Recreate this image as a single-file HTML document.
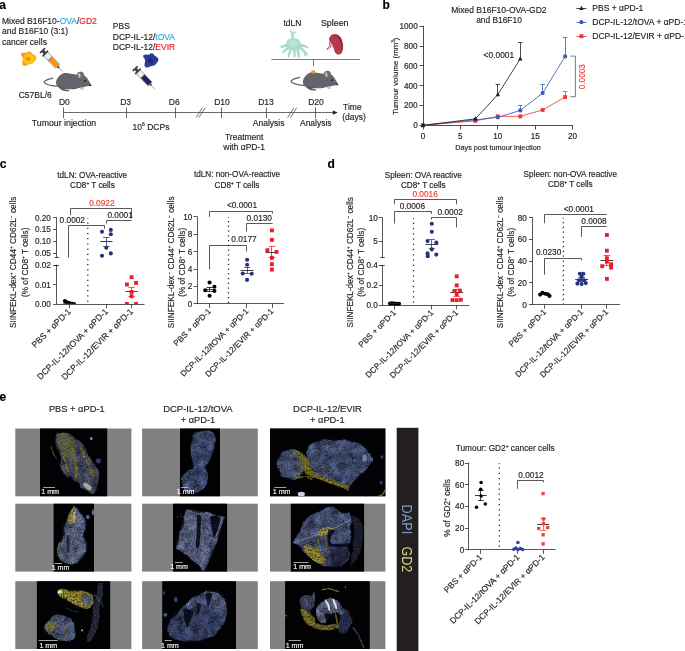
<!DOCTYPE html>
<html><head><meta charset="utf-8"><title>Figure</title>
<style>
html,body{margin:0;padding:0;background:#fff;}
svg{display:block;font-family:'Liberation Sans', sans-serif;}
text{stroke-width:.16px;}
</style></head><body>
<svg width="685" height="651" viewBox="0 0 685 651">
<rect width="685" height="651" fill="#fff"/>
<g id="panel-a">
<text x="-0.8" y="9.2" font-size="12" text-anchor="start" fill="#000" font-weight="bold" stroke="#000">a</text>
<text x="2" y="23.8" font-size="8.5" text-anchor="start" fill="#231f20" stroke="#231f20">Mixed B16F10-<tspan fill="#27aae1" stroke="#27aae1">OVA</tspan>/<tspan fill="#ed1c24" stroke="#ed1c24">GD2</tspan></text>
<text x="2" y="34.3" font-size="8.5" text-anchor="start" fill="#231f20" stroke="#231f20">and B16F10 (3:1)</text>
<text x="2" y="44.8" font-size="8.5" text-anchor="start" fill="#231f20" stroke="#231f20">cancer cells</text>
<text x="112.8" y="29.3" font-size="8.5" text-anchor="start" fill="#231f20" stroke="#231f20">PBS</text>
<text x="112.8" y="39.6" font-size="8.5" text-anchor="start" fill="#231f20" stroke="#231f20">DCP-IL-12/<tspan fill="#27aae1" stroke="#27aae1">tOVA</tspan></text>
<text x="112.8" y="49.9" font-size="8.5" text-anchor="start" fill="#231f20" stroke="#231f20">DCP-IL-12/<tspan fill="#ed1c24" stroke="#ed1c24">EVIR</tspan></text>
<text x="18.7" y="98" font-size="8.5" text-anchor="start" fill="#231f20" stroke="#231f20">C57BL/6</text>
<line x1="63.6" y1="112.5" x2="334" y2="112.5" stroke="#3a3a3a" stroke-width="0.75"/>
<path d="M337.8 112.6 L332.8 110.5 L332.8 114.69999999999999 Z" stroke="none" stroke-width="0" fill="#231f20"/>
<line x1="63.5" y1="107.4" x2="63.5" y2="118.1" stroke="#3a3a3a" stroke-width="0.75"/>
<text x="64.4" y="104.5" font-size="8.5" text-anchor="middle" fill="#231f20" stroke="#231f20">D0</text>
<line x1="126.5" y1="107.4" x2="126.5" y2="118.1" stroke="#3a3a3a" stroke-width="0.75"/>
<text x="125.6" y="104.5" font-size="8.5" text-anchor="middle" fill="#231f20" stroke="#231f20">D3</text>
<line x1="175.5" y1="107.4" x2="175.5" y2="118.1" stroke="#3a3a3a" stroke-width="0.75"/>
<text x="174.3" y="104.5" font-size="8.5" text-anchor="middle" fill="#231f20" stroke="#231f20">D6</text>
<line x1="221.5" y1="107.4" x2="221.5" y2="118.1" stroke="#3a3a3a" stroke-width="0.75"/>
<text x="222.0" y="104.5" font-size="8.5" text-anchor="middle" fill="#231f20" stroke="#231f20">D10</text>
<line x1="266.5" y1="107.4" x2="266.5" y2="118.1" stroke="#3a3a3a" stroke-width="0.75"/>
<text x="266.0" y="104.5" font-size="8.5" text-anchor="middle" fill="#231f20" stroke="#231f20">D13</text>
<line x1="315.5" y1="107.4" x2="315.5" y2="118.1" stroke="#3a3a3a" stroke-width="0.75"/>
<text x="316.0" y="104.5" font-size="8.5" text-anchor="middle" fill="#231f20" stroke="#231f20">D20</text>
<line x1="196.1" y1="117.6" x2="202.4" y2="107.8" stroke="#3a3a3a" stroke-width="0.7"/>
<line x1="198.9" y1="117.6" x2="205.2" y2="107.8" stroke="#3a3a3a" stroke-width="0.7"/>
<line x1="287.6" y1="117.6" x2="293.9" y2="107.8" stroke="#3a3a3a" stroke-width="0.7"/>
<line x1="290.4" y1="117.6" x2="296.7" y2="107.8" stroke="#3a3a3a" stroke-width="0.7"/>
<text x="64.0" y="126.4" font-size="8.75" text-anchor="middle" fill="#231f20" stroke="#231f20">Tumour injection</text>
<text x="151" y="129.6" font-size="8.5" text-anchor="middle" fill="#231f20" stroke="#231f20">10<tspan dy="-3.2" font-size="5">6</tspan><tspan dy="3.2"> DCPs</tspan></text>
<text x="268.7" y="126.4" font-size="8.5" text-anchor="middle" fill="#231f20" stroke="#231f20">Analysis</text>
<text x="315.8" y="126.4" font-size="8.5" text-anchor="middle" fill="#231f20" stroke="#231f20">Analysis</text>
<text x="244.2" y="140" font-size="8.5" text-anchor="middle" fill="#231f20" stroke="#231f20">Treatment</text>
<text x="244.2" y="150" font-size="8.5" text-anchor="middle" fill="#231f20" stroke="#231f20">with αPD-1</text>
<text x="343.1" y="110.1" font-size="8.5" text-anchor="start" fill="#231f20" stroke="#231f20">Time</text>
<text x="342.2" y="120.2" font-size="8.5" text-anchor="start" fill="#231f20" stroke="#231f20">(days)</text>
<text x="292.4" y="26" font-size="8.5" text-anchor="middle" fill="#231f20" stroke="#231f20">tdLN</text>
<text x="334.7" y="26" font-size="8.9" text-anchor="middle" fill="#231f20" stroke="#231f20">Spleen</text>
<line x1="271.4" y1="59.5" x2="360" y2="59.5" stroke="#6d6e71" stroke-width="0.9"/>
<line x1="313.5" y1="59.4" x2="313.5" y2="66.2" stroke="#6d6e71" stroke-width="0.9"/>
<radialGradient id="gcell1" cx="52%" cy="52%" r="52%"><stop offset="0" stop-color="#ffd208"/><stop offset="0.45" stop-color="#ffd208"/><stop offset="1" stop-color="#f7941d"/></radialGradient>
<path transform="translate(28.6 58.6)" d="M-7.4,-5.2 C-5,-6.6 -3.4,-5.2 -1.6,-6 C0,-7.6 2.4,-7.4 3.2,-5.4 C4.6,-3.6 7,-3.6 7.6,-1.4 C8,1 6,2.2 5,3.8 C3.6,5.6 1.4,5.2 -0.6,6.2 C-2.6,7.6 -5.4,7.6 -6.2,5.6 C-6.8,3.4 -5.2,1.4 -5.8,-0.6 C-6.4,-2.4 -8.4,-3.6 -7.4,-5.2 Z" fill="url(#gcell1)"/>
<ellipse cx="28.3" cy="59.2" rx="2.8" ry="2.3" fill="#f68b1f" transform="rotate(25 28.6 58.6)"/>
<radialGradient id="gcell2" cx="52%" cy="52%" r="52%"><stop offset="0" stop-color="#2a3a9c"/><stop offset="0.45" stop-color="#2a3a9c"/><stop offset="1" stop-color="#2c3fa6"/></radialGradient>
<path transform="translate(150.8 60.4)" d="M-7.4,-5.2 C-5,-6.6 -3.4,-5.2 -1.6,-6 C0,-7.6 2.4,-7.4 3.2,-5.4 C4.6,-3.6 7,-3.6 7.6,-1.4 C8,1 6,2.2 5,3.8 C3.6,5.6 1.4,5.2 -0.6,6.2 C-2.6,7.6 -5.4,7.6 -6.2,5.6 C-6.8,3.4 -5.2,1.4 -5.8,-0.6 C-6.4,-2.4 -8.4,-3.6 -7.4,-5.2 Z" fill="url(#gcell2)"/>
<ellipse cx="150.5" cy="61.0" rx="2.8" ry="2.3" fill="#1f2a72" transform="rotate(25 150.8 60.4)"/>
<g transform="translate(41.9 50.0) rotate(-44) scale(0.92)">
<path d="M-3.9,0.5 Q-3.9,0 -3.3,0 H3.3 Q3.9,0 3.9,0.5 V1.3 Q3.9,1.9 3.2,1.9 H1.7 V4.3 H3.6 Q4.3,4.3 4.3,5 V5.6 Q4.3,6.3 3.6,6.3 H-3.6 Q-4.3,6.3 -4.3,5.6 V5 Q-4.3,4.3 -3.6,4.3 H-1.7 V1.9 H-3.2 Q-3.9,1.9 -3.9,1.3 Z" fill="#3f4144"/>
<rect x="-3.1" y="6.2" width="6.2" height="18.6" rx="0.7" fill="#f4f4f4" stroke="#4d4e50" stroke-width="0.55"/>
<rect x="-2.8" y="13.2" width="5.6" height="11.3" fill="#f7941d"/>
<rect x="-2.9" y="12.6" width="5.8" height="0.8" fill="#4d4e50"/>
<path d="M-1.6 8.2h0.7M0.4 8.2h0.7M-1.6 9.8h0.7M0.4 9.8h0.7M-1.6 11.3h0.7M0.4 11.3h0.7" stroke="#9d9fa2" stroke-width="0.45"/>
<path d="M-1.5,24.8 H1.5 L0.5,27.4 H-0.5 Z" fill="#4d4e50"/>
<line x1="0" y1="27" x2="0" y2="32.6" stroke="#58595b" stroke-width="0.55"/>
</g>
<g transform="translate(134.6 68.0) rotate(-44) scale(0.9)">
<path d="M-3.9,0.5 Q-3.9,0 -3.3,0 H3.3 Q3.9,0 3.9,0.5 V1.3 Q3.9,1.9 3.2,1.9 H1.7 V4.3 H3.6 Q4.3,4.3 4.3,5 V5.6 Q4.3,6.3 3.6,6.3 H-3.6 Q-4.3,6.3 -4.3,5.6 V5 Q-4.3,4.3 -3.6,4.3 H-1.7 V1.9 H-3.2 Q-3.9,1.9 -3.9,1.3 Z" fill="#3f4144"/>
<rect x="-3.1" y="6.2" width="6.2" height="18.6" rx="0.7" fill="#f4f4f4" stroke="#4d4e50" stroke-width="0.55"/>
<rect x="-2.8" y="13.2" width="5.6" height="11.3" fill="#262262"/>
<rect x="-2.9" y="12.6" width="5.8" height="0.8" fill="#4d4e50"/>
<path d="M-1.6 8.2h0.7M0.4 8.2h0.7M-1.6 9.8h0.7M0.4 9.8h0.7M-1.6 11.3h0.7M0.4 11.3h0.7" stroke="#9d9fa2" stroke-width="0.45"/>
<path d="M-1.5,24.8 H1.5 L0.5,27.4 H-0.5 Z" fill="#4d4e50"/>
<line x1="0" y1="27" x2="0" y2="32.6" stroke="#58595b" stroke-width="0.55"/>
</g>
<g transform="translate(40 66)">
<path d="M16.76,20.11 C16.01,20.05 13.70,19.94 12.26,19.71 C10.83,19.47 9.38,19.13 8.18,18.72 C6.98,18.32 5.72,17.72 5.07,17.25 C4.42,16.79 4.20,16.37 4.25,15.94 C4.31,15.52 4.61,15.18 5.40,14.72 C6.19,14.25 7.78,13.59 8.99,13.16 C10.21,12.74 12.06,12.35 12.67,12.18" fill="none" stroke="#5f6368" stroke-width="1.25" stroke-linecap="round"/>
<path d="M15.94,16.76 C15.90,15.37 16.58,13.72 17.33,12.43 C18.08,11.13 19.24,9.89 20.44,8.99 C21.64,8.09 23.17,7.33 24.53,7.03 C25.89,6.73 27.26,7.02 28.62,7.20 C29.98,7.37 31.34,7.85 32.71,8.09 C34.07,8.34 35.43,8.60 36.79,8.67 C38.16,8.74 39.59,8.34 40.88,8.50 C42.18,8.67 43.54,9.05 44.56,9.65 C45.58,10.25 46.27,11.15 47.02,12.10 C47.77,13.06 48.42,14.34 49.06,15.37 C49.70,16.41 50.45,17.65 50.86,18.32 C51.27,18.98 51.74,19.08 51.51,19.38 C51.28,19.68 50.42,19.92 49.47,20.11 C48.51,20.31 46.95,20.31 45.79,20.52 C44.63,20.74 43.74,21.16 42.52,21.42 C41.29,21.68 40.07,21.89 38.43,22.08 C36.79,22.27 34.61,22.44 32.71,22.57 C30.80,22.69 28.48,22.70 26.98,22.81 C25.48,22.92 24.80,23.29 23.71,23.22 C22.62,23.15 21.46,22.81 20.44,22.40 C19.42,22.00 18.33,21.71 17.58,20.77 C16.83,19.83 15.99,18.15 15.94,16.76 Z" fill="#62656b"/>
<path d="M19.62,21.91 C20.01,21.76 22.49,22.59 23.71,22.89 C24.94,23.19 26.06,23.45 26.98,23.71 C27.91,23.97 28.97,24.19 29.27,24.45 C29.57,24.71 29.57,25.17 28.78,25.27 C27.99,25.36 25.76,25.27 24.53,25.02 C23.30,24.78 22.24,24.31 21.42,23.79 C20.61,23.28 19.24,22.06 19.62,21.91 Z" fill="#585b61"/>
<path d="M17.58,19.62 C17.65,19.45 19.69,20.99 21.26,21.42 C22.83,21.86 24.80,22.13 26.98,22.24 C29.16,22.35 32.43,22.21 34.34,22.08 C36.25,21.94 38.29,21.29 38.43,21.42 C38.57,21.56 37.07,22.61 35.16,22.89 C33.25,23.18 29.37,23.21 26.98,23.14 C24.60,23.07 22.42,23.07 20.85,22.49 C19.28,21.90 17.51,19.80 17.58,19.62 Z" fill="#55585e"/>
<path d="M36.96,9.16 C36.63,8.37 36.88,7.75 37.29,7.20 C37.69,6.64 38.59,6.02 39.41,5.81 C40.23,5.59 41.46,5.60 42.19,5.89 C42.93,6.17 43.50,6.84 43.83,7.52 C44.15,8.20 44.37,9.29 44.15,9.98 C43.94,10.66 43.34,11.28 42.52,11.61 C41.70,11.94 40.17,12.35 39.25,11.94 C38.32,11.53 37.29,9.95 36.96,9.16 Z" fill="#6b6e74"/>
<ellipse cx="39.41" cy="9.48" rx="1.23" ry="2.37" fill="#f3a4b5" transform="rotate(-8 39.41 9.48)"/>
<circle cx="44.97" cy="14.88" r="0.85" fill="#0c0c0c"/>
<ellipse cx="50.37" cy="19.38" rx="0.95" ry="0.7" fill="#0c0c0c"/>
<path d="M39.90,21.42 C40.30,21.34 41.43,21.64 42.11,21.91 C42.79,22.19 43.79,22.73 43.99,23.06 C44.19,23.39 43.79,23.85 43.34,23.88 C42.89,23.90 41.89,23.47 41.29,23.22 C40.69,22.98 39.97,22.70 39.74,22.40 C39.51,22.10 39.51,21.50 39.90,21.42 Z" fill="#f3a4b5"/>
</g>
<g transform="translate(286.9 65.2)">
<path d="M16.76,20.11 C16.01,20.05 13.70,19.94 12.26,19.71 C10.83,19.47 9.38,19.13 8.18,18.72 C6.98,18.32 5.72,17.72 5.07,17.25 C4.42,16.79 4.20,16.37 4.25,15.94 C4.31,15.52 4.61,15.18 5.40,14.72 C6.19,14.25 7.78,13.59 8.99,13.16 C10.21,12.74 12.06,12.35 12.67,12.18" fill="none" stroke="#5f6368" stroke-width="1.25" stroke-linecap="round"/>
<path d="M15.94,16.76 C15.90,15.37 16.58,13.72 17.33,12.43 C18.08,11.13 19.24,9.89 20.44,8.99 C21.64,8.09 23.17,7.33 24.53,7.03 C25.89,6.73 27.26,7.02 28.62,7.20 C29.98,7.37 31.34,7.85 32.71,8.09 C34.07,8.34 35.43,8.60 36.79,8.67 C38.16,8.74 39.59,8.34 40.88,8.50 C42.18,8.67 43.54,9.05 44.56,9.65 C45.58,10.25 46.27,11.15 47.02,12.10 C47.77,13.06 48.42,14.34 49.06,15.37 C49.70,16.41 50.45,17.65 50.86,18.32 C51.27,18.98 51.74,19.08 51.51,19.38 C51.28,19.68 50.42,19.92 49.47,20.11 C48.51,20.31 46.95,20.31 45.79,20.52 C44.63,20.74 43.74,21.16 42.52,21.42 C41.29,21.68 40.07,21.89 38.43,22.08 C36.79,22.27 34.61,22.44 32.71,22.57 C30.80,22.69 28.48,22.70 26.98,22.81 C25.48,22.92 24.80,23.29 23.71,23.22 C22.62,23.15 21.46,22.81 20.44,22.40 C19.42,22.00 18.33,21.71 17.58,20.77 C16.83,19.83 15.99,18.15 15.94,16.76 Z" fill="#62656b"/>
<path d="M19.62,21.91 C20.01,21.76 22.49,22.59 23.71,22.89 C24.94,23.19 26.06,23.45 26.98,23.71 C27.91,23.97 28.97,24.19 29.27,24.45 C29.57,24.71 29.57,25.17 28.78,25.27 C27.99,25.36 25.76,25.27 24.53,25.02 C23.30,24.78 22.24,24.31 21.42,23.79 C20.61,23.28 19.24,22.06 19.62,21.91 Z" fill="#585b61"/>
<path d="M17.58,19.62 C17.65,19.45 19.69,20.99 21.26,21.42 C22.83,21.86 24.80,22.13 26.98,22.24 C29.16,22.35 32.43,22.21 34.34,22.08 C36.25,21.94 38.29,21.29 38.43,21.42 C38.57,21.56 37.07,22.61 35.16,22.89 C33.25,23.18 29.37,23.21 26.98,23.14 C24.60,23.07 22.42,23.07 20.85,22.49 C19.28,21.90 17.51,19.80 17.58,19.62 Z" fill="#55585e"/>
<path d="M36.96,9.16 C36.63,8.37 36.88,7.75 37.29,7.20 C37.69,6.64 38.59,6.02 39.41,5.81 C40.23,5.59 41.46,5.60 42.19,5.89 C42.93,6.17 43.50,6.84 43.83,7.52 C44.15,8.20 44.37,9.29 44.15,9.98 C43.94,10.66 43.34,11.28 42.52,11.61 C41.70,11.94 40.17,12.35 39.25,11.94 C38.32,11.53 37.29,9.95 36.96,9.16 Z" fill="#6b6e74"/>
<ellipse cx="39.41" cy="9.48" rx="1.23" ry="2.37" fill="#f3a4b5" transform="rotate(-8 39.41 9.48)"/>
<circle cx="44.97" cy="14.88" r="0.85" fill="#0c0c0c"/>
<ellipse cx="50.37" cy="19.38" rx="0.95" ry="0.7" fill="#0c0c0c"/>
<path d="M39.90,21.42 C40.30,21.34 41.43,21.64 42.11,21.91 C42.79,22.19 43.79,22.73 43.99,23.06 C44.19,23.39 43.79,23.85 43.34,23.88 C42.89,23.90 41.89,23.47 41.29,23.22 C40.69,22.98 39.97,22.70 39.74,22.40 C39.51,22.10 39.51,21.50 39.90,21.42 Z" fill="#f3a4b5"/>
<ellipse cx="26.33" cy="6.87" rx="2.1" ry="1.7" fill="#f7941d"/>
</g>
<g fill="#a9dcc6" stroke="#93d2b8" stroke-width="0.3">
<path d="M286.6,43.6 C286.4,40.2 289.4,38.6 291.6,38.8 C291.8,36.6 291,35.4 291.8,33.8 C290.4,32.4 289.6,31 290,30.2 C291.2,30.2 292.2,31.6 293,32.4 C294.2,31.6 295.6,31.4 296.4,32 C295.6,33 294.2,33.4 293.6,34.4 C293.4,36 294,37.6 294.2,38.8 C297.4,38.4 300.4,40.4 300.4,43.8 C302.6,44.4 306.4,45.6 308.6,47.4 C308.6,48.2 307.4,48.2 306.4,47.8 C304.6,47 302.6,46.6 300.8,46.4 C302.6,48.2 305.4,50.4 306.2,52.6 C307.4,53.2 308.2,54.6 307.8,55.4 C306.8,55.4 306,54.4 305.6,53.8 C305.2,54.8 305.6,56 305,56.6 C304,56.2 304,54.4 304.2,53.2 C303,51.4 300.6,49.8 298.8,48.6 C299.2,51.4 299.8,54.6 299.6,57.6 C299,58.4 298,58 297.8,57 C297.6,54.2 297,51.4 296.2,49.2 C295.4,50.6 295.6,54.4 295.2,57 C294.6,57.8 293.6,57.6 293.6,56.6 C293.6,54 293.4,51 292.6,49 C291.2,50.4 290.2,54 289.4,56.8 C288.8,57.6 287.8,57.2 287.8,56.2 C288.2,53.6 289,50.4 289.8,48.4 C288,49 285.4,51.4 283.6,52.8 C282.8,53.2 282,52.6 282.4,51.8 C283.8,50.2 285.8,48.2 287.4,47 C285.4,46.8 282.8,47.6 280.8,47.8 C280,47.6 280,46.6 280.8,46.2 C282.6,45.6 285,44.6 286.6,43.6 Z"/>
</g>
<ellipse cx="293.4" cy="43.4" rx="5" ry="3.6" fill="#b9e4d2"/>
<path d="M329.4,37.4 C331.6,33.2 337.4,32.8 340.4,37 C343.6,41.6 344.2,49.6 341.4,53.2 C339.4,55.6 335.6,54.6 334.6,51.4 C333.8,48.6 333.6,46.4 331.6,44 C329.8,42 328.2,40 329.4,37.4 Z" fill="#b23a4d"/>
<path d="M333,36 C336.4,35.6 339.4,39 340.6,43.4 C341.6,47.4 341.2,51.4 339.6,53.4 C342.6,51.4 343.4,45 341.6,40 C340,35.6 336,33.6 333,36 Z" fill="#9a2b3f"/>
<path d="M326.6,49.6 L329.8,45.6 L329.3,42.2" fill="none" stroke="#3343a8" stroke-width="0.75" stroke-linejoin="round"/>
<path d="M327.2,49.8 L331.8,46.3 L334.6,47.8 M330.2,47.4 L331.2,43.6" fill="none" stroke="#c9242c" stroke-width="0.6" stroke-linejoin="round"/>
</g>
<g id="panel-b">
<text x="382.4" y="9.0" font-size="12" text-anchor="start" fill="#000" font-weight="bold" stroke="#000">b</text>
<text x="498.9" y="12.5" font-size="8.5" text-anchor="middle" fill="#231f20" stroke="#231f20">Mixed B16F10-OVA-GD2</text>
<text x="499" y="23.1" font-size="8.4" text-anchor="middle" fill="#231f20" stroke="#231f20">and B16F10</text>
<line x1="423.5" y1="25.8" x2="423.5" y2="125.7" stroke="#231f20" stroke-width="0.8"/>
<line x1="419.5" y1="125.5" x2="423.3" y2="125.5" stroke="#231f20" stroke-width="0.8"/>
<text x="417.7" y="128.25" font-size="8.2" text-anchor="end" fill="#231f20" stroke="#231f20">0</text>
<line x1="419.5" y1="105.5" x2="423.3" y2="105.5" stroke="#231f20" stroke-width="0.8"/>
<text x="417.7" y="108.43" font-size="8.2" text-anchor="end" fill="#231f20" stroke="#231f20">200</text>
<line x1="419.5" y1="85.5" x2="423.3" y2="85.5" stroke="#231f20" stroke-width="0.8"/>
<text x="417.7" y="88.61" font-size="8.2" text-anchor="end" fill="#231f20" stroke="#231f20">400</text>
<line x1="419.5" y1="65.5" x2="423.3" y2="65.5" stroke="#231f20" stroke-width="0.8"/>
<text x="417.7" y="68.79" font-size="8.2" text-anchor="end" fill="#231f20" stroke="#231f20">600</text>
<line x1="419.5" y1="46.5" x2="423.3" y2="46.5" stroke="#231f20" stroke-width="0.8"/>
<text x="417.7" y="48.970000000000006" font-size="8.2" text-anchor="end" fill="#231f20" stroke="#231f20">800</text>
<line x1="419.5" y1="26.5" x2="423.3" y2="26.5" stroke="#231f20" stroke-width="0.8"/>
<text x="417.7" y="29.15" font-size="8.2" text-anchor="end" fill="#231f20" stroke="#231f20">1000</text>
<line x1="422.6" y1="125.5" x2="573.0" y2="125.5" stroke="#231f20" stroke-width="0.8"/>
<line x1="423.5" y1="125.6" x2="423.5" y2="129.5" stroke="#231f20" stroke-width="0.8"/>
<text x="423.0" y="138.79999999999998" font-size="8.2" text-anchor="middle" fill="#231f20" stroke="#231f20">0</text>
<line x1="460.5" y1="125.6" x2="460.5" y2="129.5" stroke="#231f20" stroke-width="0.8"/>
<text x="460.4" y="138.79999999999998" font-size="8.2" text-anchor="middle" fill="#231f20" stroke="#231f20">5</text>
<line x1="497.5" y1="125.6" x2="497.5" y2="129.5" stroke="#231f20" stroke-width="0.8"/>
<text x="497.8" y="138.79999999999998" font-size="8.2" text-anchor="middle" fill="#231f20" stroke="#231f20">10</text>
<line x1="535.5" y1="125.6" x2="535.5" y2="129.5" stroke="#231f20" stroke-width="0.8"/>
<text x="535.2" y="138.79999999999998" font-size="8.2" text-anchor="middle" fill="#231f20" stroke="#231f20">15</text>
<line x1="572.5" y1="125.6" x2="572.5" y2="129.5" stroke="#231f20" stroke-width="0.8"/>
<text x="572.6" y="138.79999999999998" font-size="8.2" text-anchor="middle" fill="#231f20" stroke="#231f20">20</text>
<text x="498" y="150.2" font-size="7.25" text-anchor="middle" fill="#231f20" stroke="#231f20">Days post tumour injection</text>
<text x="397.9" y="76.2" font-size="7.85" text-anchor="middle" fill="#231f20" transform="rotate(-90 397.9 76.2)" stroke="#231f20">Tumour volume (mm<tspan dy="-2.6" font-size="4.6">3</tspan><tspan dy="2.6">)</tspan></text>
<line x1="565.5" y1="97.06" x2="565.5" y2="91.61" stroke="#ee3a36" stroke-width="0.8"/>
<line x1="562.92" y1="91.5" x2="567.32" y2="91.5" stroke="#ee3a36" stroke-width="0.8"/>
<polyline points="423.0,125.3 475.36,120.84 497.8,116.38 520.24,116.38 542.68,109.94 565.12,97.06" fill="none" stroke="#ee3a36" stroke-width="0.85" stroke-linejoin="round"/>
<rect x="421.05" y="123.35" width="3.9" height="3.9" fill="#ee3a36"/>
<rect x="473.41" y="118.89" width="3.9" height="3.9" fill="#ee3a36"/>
<rect x="495.85" y="114.43" width="3.9" height="3.9" fill="#ee3a36"/>
<rect x="518.29" y="114.43" width="3.9" height="3.9" fill="#ee3a36"/>
<rect x="540.73" y="107.99" width="3.9" height="3.9" fill="#ee3a36"/>
<rect x="563.17" y="95.11" width="3.9" height="3.9" fill="#ee3a36"/>
<line x1="520.5" y1="110.44" x2="520.5" y2="105.48" stroke="#3d5ab4" stroke-width="0.8"/>
<line x1="518.04" y1="105.5" x2="522.44" y2="105.5" stroke="#3d5ab4" stroke-width="0.8"/>
<line x1="542.5" y1="93.09" x2="542.5" y2="84.67" stroke="#3d5ab4" stroke-width="0.8"/>
<line x1="540.48" y1="84.5" x2="544.88" y2="84.5" stroke="#3d5ab4" stroke-width="0.8"/>
<line x1="565.5" y1="56.43" x2="565.5" y2="37.6" stroke="#3d5ab4" stroke-width="0.8"/>
<line x1="562.92" y1="37.5" x2="567.32" y2="37.5" stroke="#3d5ab4" stroke-width="0.8"/>
<polyline points="423.0,125.3 475.36,119.85 497.8,117.37 520.24,110.44 542.68,93.09 565.12,56.43" fill="none" stroke="#3d5ab4" stroke-width="0.85" stroke-linejoin="round"/>
<circle cx="423.0" cy="125.3" r="2.1" fill="#3d5ab4"/>
<circle cx="475.36" cy="119.85" r="2.1" fill="#3d5ab4"/>
<circle cx="497.8" cy="117.37" r="2.1" fill="#3d5ab4"/>
<circle cx="520.24" cy="110.44" r="2.1" fill="#3d5ab4"/>
<circle cx="542.68" cy="93.09" r="2.1" fill="#3d5ab4"/>
<circle cx="565.12" cy="56.43" r="2.1" fill="#3d5ab4"/>
<line x1="497.5" y1="94.58" x2="497.5" y2="84.67" stroke="#231f20" stroke-width="0.8"/>
<line x1="495.6" y1="84.5" x2="500.0" y2="84.5" stroke="#231f20" stroke-width="0.8"/>
<line x1="520.5" y1="58.9" x2="520.5" y2="42.55" stroke="#231f20" stroke-width="0.8"/>
<line x1="518.04" y1="42.5" x2="522.44" y2="42.5" stroke="#231f20" stroke-width="0.8"/>
<polyline points="423.0,125.3 475.36,118.86 497.8,94.58 520.24,58.9" fill="none" stroke="#231f20" stroke-width="0.85" stroke-linejoin="round"/>
<path d="M423.0,122.7 L425.25,126.9 L420.75,126.9 Z" fill="#231f20"/>
<path d="M475.36,116.26 L477.61,120.46 L473.11,120.46 Z" fill="#231f20"/>
<path d="M497.8,91.98 L500.05,96.18 L495.55,96.18 Z" fill="#231f20"/>
<path d="M520.24,56.3 L522.49,60.5 L517.99,60.5 Z" fill="#231f20"/>
<text x="483.6" y="57.9" font-size="8.4" text-anchor="start" fill="#231f20" stroke="#231f20">&lt;0.0001</text>
<path d="M570.4,56.1 H575.4 V96.7 H570.4" stroke="#58595b" stroke-width="0.8" fill="none"/>
<text x="585.0" y="76.7" font-size="8.2" text-anchor="middle" fill="#ee3a36" transform="rotate(-90 585.0 76.7)" stroke="#ee3a36">0.0003</text>
<line x1="576.4" y1="8.5" x2="586.4" y2="8.5" stroke="#231f20" stroke-width="0.85"/>
<path d="M581.4,5.8 L583.65,10.0 L579.15,10.0 Z" fill="#231f20"/>
<text x="592.3" y="11.4" font-size="8.5" text-anchor="start" fill="#231f20" stroke="#231f20">PBS + αPD-1</text>
<line x1="576.4" y1="22.5" x2="586.4" y2="22.5" stroke="#3d5ab4" stroke-width="0.85"/>
<circle cx="581.4" cy="22.2" r="2.1" fill="#3d5ab4"/>
<text x="592.3" y="25.2" font-size="8.5" text-anchor="start" fill="#231f20" stroke="#231f20">DCP-IL-12/tOVA + αPD-1</text>
<line x1="576.4" y1="36.5" x2="586.4" y2="36.5" stroke="#ee3a36" stroke-width="0.85"/>
<rect x="579.45" y="34.25" width="3.9" height="3.9" fill="#ee3a36"/>
<text x="592.3" y="39.2" font-size="8.5" text-anchor="start" fill="#231f20" stroke="#231f20">DCP-IL-12/EVIR + αPD-1</text>
</g>
<g id="panel-c">
<text x="-0.2" y="168.3" font-size="12" text-anchor="start" fill="#000" font-weight="bold" stroke="#000">c</text>
<text x="92.2" y="177.5" font-size="8.18" text-anchor="middle" fill="#231f20" stroke="#231f20">tdLN: OVA-reactive</text>
<text x="92.4" y="187.6" font-size="8.18" text-anchor="middle" fill="#231f20" stroke="#231f20">CD8<tspan dy="-2.9" font-size="4.8">+</tspan><tspan dy="2.9" font-size="4.8">​</tspan> T cells</text>
<text x="16.4" y="262.3" font-size="8.27" text-anchor="middle" fill="#231f20" transform="rotate(-90 16.4 262.3)" stroke="#231f20">SIINFEKL-dex<tspan dy="-2.9" font-size="4.8">+</tspan><tspan dy="2.9" font-size="4.8">​</tspan> CD44<tspan dy="-2.9" font-size="4.8">+</tspan><tspan dy="2.9" font-size="4.8">​</tspan> CD62L<tspan dy="-2.9" font-size="4.8">−</tspan><tspan dy="2.9" font-size="4.8">​</tspan> cells</text>
<text x="27.6" y="262.3" font-size="8.27" text-anchor="middle" fill="#231f20" transform="rotate(-90 27.6 262.3)" stroke="#231f20">(% of CD8<tspan dy="-2.9" font-size="4.8">+</tspan><tspan dy="2.9" font-size="4.8">​</tspan> T cells)</text>
<line x1="56.5" y1="217.32" x2="56.5" y2="257.77" stroke="#231f20" stroke-width="0.75"/>
<line x1="53.1" y1="217.5" x2="56.8" y2="217.5" stroke="#231f20" stroke-width="0.75"/>
<text x="50.9" y="220.65" font-size="8.2" text-anchor="end" fill="#231f20" stroke="#231f20">0.20</text>
<line x1="53.1" y1="229.5" x2="56.8" y2="229.5" stroke="#231f20" stroke-width="0.75"/>
<text x="50.9" y="232.45" font-size="8.2" text-anchor="end" fill="#231f20" stroke="#231f20">0.15</text>
<line x1="53.1" y1="241.5" x2="56.8" y2="241.5" stroke="#231f20" stroke-width="0.75"/>
<text x="50.9" y="244.25" font-size="8.2" text-anchor="end" fill="#231f20" stroke="#231f20">0.10</text>
<line x1="53.1" y1="253.5" x2="56.8" y2="253.5" stroke="#231f20" stroke-width="0.75"/>
<text x="50.9" y="256.05" font-size="8.2" text-anchor="end" fill="#231f20" stroke="#231f20">0.05</text>
<line x1="54.5" y1="257.5" x2="59.1" y2="257.5" stroke="#231f20" stroke-width="0.75"/>
<line x1="56.5" y1="264.73" x2="56.5" y2="304.57" stroke="#231f20" stroke-width="0.75"/>
<line x1="53.1" y1="265.5" x2="56.8" y2="265.5" stroke="#231f20" stroke-width="0.75"/>
<text x="50.9" y="268.05" font-size="8.2" text-anchor="end" fill="#231f20" stroke="#231f20">0.02</text>
<line x1="53.1" y1="284.5" x2="56.8" y2="284.5" stroke="#231f20" stroke-width="0.75"/>
<text x="50.9" y="287.65" font-size="8.2" text-anchor="end" fill="#231f20" stroke="#231f20">0.01</text>
<line x1="53.1" y1="304.5" x2="56.8" y2="304.5" stroke="#231f20" stroke-width="0.75"/>
<text x="50.9" y="307.15" font-size="8.2" text-anchor="end" fill="#231f20" stroke="#231f20">0.00</text>
<line x1="54.5" y1="265.5" x2="59.1" y2="265.5" stroke="#231f20" stroke-width="0.75"/>
<line x1="56.42" y1="304.5" x2="144.5" y2="304.5" stroke="#231f20" stroke-width="0.75"/>
<line x1="69.5" y1="304.2" x2="69.5" y2="308.3" stroke="#231f20" stroke-width="0.75"/>
<line x1="106.5" y1="304.2" x2="106.5" y2="308.3" stroke="#231f20" stroke-width="0.75"/>
<line x1="131.5" y1="304.2" x2="131.5" y2="308.3" stroke="#231f20" stroke-width="0.75"/>
<line x1="87.8" y1="217.9" x2="87.8" y2="304" stroke="#231f20" stroke-width="1.25" stroke-dasharray="1.25 3.95" stroke-dashoffset="0.6"/>
<clipPath id="clipc1"><rect x="50" y="200" width="100" height="103.9"/></clipPath>
<g clip-path="url(#clipc1)">
<circle cx="64.9" cy="301" r="2.05" fill="#000"/>
<circle cx="66.9" cy="302.2" r="2.05" fill="#000"/>
<circle cx="69.4" cy="303" r="2.05" fill="#000"/>
<circle cx="72" cy="303.7" r="2.05" fill="#000"/>
<circle cx="74" cy="304" r="2.05" fill="#000"/>
<line x1="106.5" y1="237.2" x2="106.5" y2="246.1" stroke="#29307f" stroke-width="0.75"/>
<line x1="103.1" y1="237.5" x2="109.5" y2="237.5" stroke="#29307f" stroke-width="0.75"/>
<line x1="103.1" y1="246.5" x2="109.5" y2="246.5" stroke="#29307f" stroke-width="0.75"/>
<line x1="100.1" y1="241.5" x2="112.5" y2="241.5" stroke="#231f20" stroke-width="0.85"/>
<circle cx="102" cy="231.8" r="2.05" fill="#29307f"/>
<circle cx="110.8" cy="229.9" r="2.05" fill="#29307f"/>
<circle cx="110.8" cy="234.3" r="2.05" fill="#29307f"/>
<circle cx="106.3" cy="247.8" r="2.05" fill="#29307f"/>
<circle cx="102" cy="255.7" r="2.05" fill="#29307f"/>
<circle cx="110.8" cy="253.4" r="2.05" fill="#29307f"/>
<line x1="131.5" y1="287.5" x2="131.5" y2="296" stroke="#ed1c24" stroke-width="0.75"/>
<line x1="128.4" y1="287.5" x2="134.8" y2="287.5" stroke="#ed1c24" stroke-width="0.75"/>
<line x1="128.4" y1="296.5" x2="134.8" y2="296.5" stroke="#ed1c24" stroke-width="0.75"/>
<line x1="125.4" y1="291.5" x2="137.8" y2="291.5" stroke="#231f20" stroke-width="0.85"/>
<rect x="129.67" y="275.27" width="3.85" height="3.85" fill="#ed1c24"/>
<rect x="124.98" y="282.57" width="3.85" height="3.85" fill="#ed1c24"/>
<rect x="134.17" y="280.97" width="3.85" height="3.85" fill="#ed1c24"/>
<rect x="129.67" y="290.07" width="3.85" height="3.85" fill="#ed1c24"/>
<rect x="129.67" y="294.38" width="3.85" height="3.85" fill="#ed1c24"/>
<rect x="124.98" y="301.97" width="3.85" height="3.85" fill="#ed1c24"/>
<rect x="134.17" y="301.97" width="3.85" height="3.85" fill="#ed1c24"/>
</g>
<line x1="63.2" y1="303.5" x2="75.4" y2="303.5" stroke="#231f20" stroke-width="0.8"/>
<path d="M70.5,215.2 V208.5 H131.5 V218.2" stroke="#231f20" stroke-width="0.75" fill="none"/>
<text x="101.9" y="205.8" font-size="8.3" text-anchor="middle" fill="#ef4036" stroke="#ef4036">0.0922</text>
<path d="M106.5,223.6 V220.5 H131.5 V220.6" stroke="#231f20" stroke-width="0.75" fill="none"/>
<text x="120.1" y="217.7" font-size="8.3" text-anchor="middle" fill="#231f20" stroke="#231f20">0.0001</text>
<path d="M68.5,257.4 V225.5 H104.5 V228.7" stroke="#231f20" stroke-width="0.75" fill="none"/>
<text x="72.3" y="222.8" font-size="8.3" text-anchor="middle" fill="#231f20" stroke="#231f20">0.0002</text>
<text x="71.4" y="312.1" font-size="8.55" text-anchor="end" fill="#231f20" transform="rotate(-45 71.4 312.1)" stroke="#231f20">PBS + αPD-1</text>
<text x="108.6" y="312.1" font-size="8.55" text-anchor="end" fill="#231f20" transform="rotate(-45 108.6 312.1)" stroke="#231f20">DCP-IL-12/tOVA + αPD-1</text>
<text x="133.6" y="312.1" font-size="8.55" text-anchor="end" fill="#231f20" transform="rotate(-45 133.6 312.1)" stroke="#231f20">DCP-IL-12/EVIR + αPD-1</text>
<text x="237" y="177.4" font-size="8.18" text-anchor="middle" fill="#231f20" stroke="#231f20">tdLN: non-OVA-reactive</text>
<text x="237" y="187.6" font-size="8.18" text-anchor="middle" fill="#231f20" stroke="#231f20">CD8<tspan dy="-2.9" font-size="4.8">+</tspan><tspan dy="2.9" font-size="4.8">​</tspan> T cells</text>
<text x="173.7" y="262.3" font-size="8.2" text-anchor="middle" fill="#231f20" transform="rotate(-90 173.7 262.3)" stroke="#231f20">SIINFEKL-dex<tspan dy="-2.9" font-size="4.8"> −</tspan><tspan dy="2.9" font-size="4.8">​</tspan> CD44<tspan dy="-2.9" font-size="4.8">+</tspan><tspan dy="2.9" font-size="4.8">​</tspan> CD62L<tspan dy="-2.9" font-size="4.8">−</tspan><tspan dy="2.9" font-size="4.8">​</tspan> cells</text>
<text x="184.6" y="262.3" font-size="8.2" text-anchor="middle" fill="#231f20" transform="rotate(-90 184.6 262.3)" stroke="#231f20">(% of CD8<tspan dy="-2.9" font-size="4.8">+</tspan><tspan dy="2.9" font-size="4.8">​</tspan> T cells)</text>
<line x1="197.5" y1="216.53" x2="197.5" y2="304.27" stroke="#231f20" stroke-width="0.75"/>
<line x1="193.5" y1="216.5" x2="197.2" y2="216.5" stroke="#231f20" stroke-width="0.75"/>
<text x="192.3" y="219.85" font-size="8.2" text-anchor="end" fill="#231f20" stroke="#231f20">10</text>
<line x1="193.5" y1="234.5" x2="197.2" y2="234.5" stroke="#231f20" stroke-width="0.75"/>
<text x="192.3" y="237.25" font-size="8.2" text-anchor="end" fill="#231f20" stroke="#231f20">8</text>
<line x1="193.5" y1="251.5" x2="197.2" y2="251.5" stroke="#231f20" stroke-width="0.75"/>
<text x="192.3" y="254.75" font-size="8.2" text-anchor="end" fill="#231f20" stroke="#231f20">6</text>
<line x1="193.5" y1="269.5" x2="197.2" y2="269.5" stroke="#231f20" stroke-width="0.75"/>
<text x="192.3" y="272.15" font-size="8.2" text-anchor="end" fill="#231f20" stroke="#231f20">4</text>
<line x1="193.5" y1="286.5" x2="197.2" y2="286.5" stroke="#231f20" stroke-width="0.75"/>
<text x="192.3" y="289.45" font-size="8.2" text-anchor="end" fill="#231f20" stroke="#231f20">2</text>
<line x1="193.5" y1="303.5" x2="197.2" y2="303.5" stroke="#231f20" stroke-width="0.75"/>
<text x="192.3" y="306.85" font-size="8.2" text-anchor="end" fill="#231f20" stroke="#231f20">0</text>
<line x1="196.82" y1="303.5" x2="284.0" y2="303.5" stroke="#231f20" stroke-width="0.75"/>
<line x1="209.5" y1="303.9" x2="209.5" y2="308.0" stroke="#231f20" stroke-width="0.75"/>
<line x1="246.5" y1="303.9" x2="246.5" y2="308.0" stroke="#231f20" stroke-width="0.75"/>
<line x1="272.5" y1="303.9" x2="272.5" y2="308.0" stroke="#231f20" stroke-width="0.75"/>
<line x1="228.5" y1="216.9" x2="228.5" y2="303.5" stroke="#231f20" stroke-width="1.25" stroke-dasharray="1.25 3.5" stroke-dashoffset="0.6"/>
<line x1="209.5" y1="287.2" x2="209.5" y2="291.2" stroke="#000" stroke-width="0.75"/>
<line x1="206.6" y1="287.5" x2="212.8" y2="287.5" stroke="#000" stroke-width="0.75"/>
<line x1="206.6" y1="291.5" x2="212.8" y2="291.5" stroke="#000" stroke-width="0.75"/>
<line x1="204.1" y1="289.5" x2="215.3" y2="289.5" stroke="#231f20" stroke-width="0.85"/>
<circle cx="209.6" cy="282.5" r="2.05" fill="#000"/>
<circle cx="205.2" cy="290.2" r="2.05" fill="#000"/>
<circle cx="214.4" cy="286.8" r="2.05" fill="#000"/>
<circle cx="214.4" cy="291.0" r="2.05" fill="#000"/>
<circle cx="209.6" cy="295.8" r="2.05" fill="#000"/>
<line x1="247.5" y1="267.1" x2="247.5" y2="273.5" stroke="#29307f" stroke-width="0.75"/>
<line x1="244.1" y1="267.5" x2="250.3" y2="267.5" stroke="#29307f" stroke-width="0.75"/>
<line x1="244.1" y1="273.5" x2="250.3" y2="273.5" stroke="#29307f" stroke-width="0.75"/>
<line x1="240.6" y1="270.5" x2="253.8" y2="270.5" stroke="#231f20" stroke-width="0.85"/>
<circle cx="247.1" cy="259.8" r="2.05" fill="#29307f"/>
<circle cx="247.1" cy="264.8" r="2.05" fill="#29307f"/>
<circle cx="242.7" cy="273.5" r="2.05" fill="#29307f"/>
<circle cx="251.7" cy="273.8" r="2.05" fill="#29307f"/>
<circle cx="247.1" cy="279.9" r="2.05" fill="#29307f"/>
<line x1="271.5" y1="246.5" x2="271.5" y2="257.4" stroke="#ed1c24" stroke-width="0.75"/>
<line x1="268.7" y1="246.5" x2="275.1" y2="246.5" stroke="#ed1c24" stroke-width="0.75"/>
<line x1="268.7" y1="257.5" x2="275.1" y2="257.5" stroke="#ed1c24" stroke-width="0.75"/>
<line x1="265.5" y1="252.5" x2="278.3" y2="252.5" stroke="#231f20" stroke-width="0.85"/>
<rect x="269.97" y="228.47" width="3.85" height="3.85" fill="#ed1c24"/>
<rect x="269.97" y="237.97" width="3.85" height="3.85" fill="#ed1c24"/>
<rect x="265.47" y="248.27" width="3.85" height="3.85" fill="#ed1c24"/>
<rect x="274.57" y="249.97" width="3.85" height="3.85" fill="#ed1c24"/>
<rect x="269.97" y="255.88" width="3.85" height="3.85" fill="#ed1c24"/>
<rect x="269.97" y="262.27" width="3.85" height="3.85" fill="#ed1c24"/>
<rect x="269.97" y="267.68" width="3.85" height="3.85" fill="#ed1c24"/>
<path d="M209.5,216.9 V211.5 H272.5 V213.5" stroke="#231f20" stroke-width="0.75" fill="none"/>
<text x="242.0" y="208.2" font-size="8.3" text-anchor="middle" fill="#231f20" stroke="#231f20">&lt;0.0001</text>
<path d="M246.5,231.6 V223.5 H272.5 V223.3" stroke="#231f20" stroke-width="0.75" fill="none"/>
<text x="259.3" y="221.2" font-size="8.3" text-anchor="middle" fill="#231f20" stroke="#231f20">0.0130</text>
<path d="M209.5,269.3 V245.5 H246.5 V251.5" stroke="#231f20" stroke-width="0.75" fill="none"/>
<text x="244.0" y="242" font-size="8.3" text-anchor="middle" fill="#231f20" stroke="#231f20">0.0177</text>
<text x="211.6" y="311.8" font-size="8.2" text-anchor="end" fill="#231f20" transform="rotate(-45 211.6 311.8)" stroke="#231f20">PBS + αPD-1</text>
<text x="249.0" y="311.8" font-size="8.2" text-anchor="end" fill="#231f20" transform="rotate(-45 249.0 311.8)" stroke="#231f20">DCP-IL-12/tOVA + αPD-1</text>
<text x="274.1" y="311.8" font-size="8.2" text-anchor="end" fill="#231f20" transform="rotate(-45 274.1 311.8)" stroke="#231f20">DCP-IL-12/EVIR + αPD-1</text>
</g>
<g id="panel-d">
<text x="327.4" y="168.2" font-size="12" text-anchor="start" fill="#000" font-weight="bold" stroke="#000">d</text>
<text x="423.3" y="177.5" font-size="8.18" text-anchor="middle" fill="#231f20" stroke="#231f20">Spleen: OVA reactive</text>
<text x="423.3" y="187.6" font-size="8.18" text-anchor="middle" fill="#231f20" stroke="#231f20">CD8<tspan dy="-2.9" font-size="4.8">+</tspan><tspan dy="2.9" font-size="4.8">​</tspan> T cells</text>
<text x="352.8" y="262.3" font-size="8.2" text-anchor="middle" fill="#231f20" transform="rotate(-90 352.8 262.3)" stroke="#231f20">SIINFEKL-dex<tspan dy="-2.9" font-size="4.8">+</tspan><tspan dy="2.9" font-size="4.8">​</tspan> CD44<tspan dy="-2.9" font-size="4.8">+</tspan><tspan dy="2.9" font-size="4.8">​</tspan> CD62L<tspan dy="-2.9" font-size="4.8">−</tspan><tspan dy="2.9" font-size="4.8">​</tspan> cells</text>
<text x="364.0" y="262.3" font-size="8.2" text-anchor="middle" fill="#231f20" transform="rotate(-90 364.0 262.3)" stroke="#231f20">(% of CD8<tspan dy="-2.9" font-size="4.8">+</tspan><tspan dy="2.9" font-size="4.8">​</tspan> T cells)</text>
<line x1="382.5" y1="217.43" x2="382.5" y2="258.27" stroke="#231f20" stroke-width="0.75"/>
<line x1="378.8" y1="217.5" x2="382.5" y2="217.5" stroke="#231f20" stroke-width="0.75"/>
<text x="377.8" y="220.75" font-size="8.2" text-anchor="end" fill="#231f20" stroke="#231f20">10</text>
<line x1="378.8" y1="241.5" x2="382.5" y2="241.5" stroke="#231f20" stroke-width="0.75"/>
<text x="377.8" y="244.15" font-size="8.2" text-anchor="end" fill="#231f20" stroke="#231f20">5</text>
<line x1="380.2" y1="257.5" x2="384.8" y2="257.5" stroke="#231f20" stroke-width="0.75"/>
<line x1="382.5" y1="264.93" x2="382.5" y2="305.68" stroke="#231f20" stroke-width="0.75"/>
<line x1="378.8" y1="265.5" x2="382.5" y2="265.5" stroke="#231f20" stroke-width="0.75"/>
<text x="377.8" y="268.25" font-size="8.2" text-anchor="end" fill="#231f20" stroke="#231f20">0.4</text>
<line x1="378.8" y1="285.5" x2="382.5" y2="285.5" stroke="#231f20" stroke-width="0.75"/>
<text x="377.8" y="288.35" font-size="8.2" text-anchor="end" fill="#231f20" stroke="#231f20">0.2</text>
<line x1="378.8" y1="305.5" x2="382.5" y2="305.5" stroke="#231f20" stroke-width="0.75"/>
<text x="377.8" y="308.25" font-size="8.2" text-anchor="end" fill="#231f20" stroke="#231f20">0.0</text>
<line x1="380.2" y1="265.5" x2="384.8" y2="265.5" stroke="#231f20" stroke-width="0.75"/>
<line x1="382.12" y1="305.5" x2="469.3" y2="305.5" stroke="#231f20" stroke-width="0.75"/>
<line x1="394.5" y1="305.3" x2="394.5" y2="309.4" stroke="#231f20" stroke-width="0.75"/>
<line x1="431.5" y1="305.3" x2="431.5" y2="309.4" stroke="#231f20" stroke-width="0.75"/>
<line x1="456.5" y1="305.3" x2="456.5" y2="309.4" stroke="#231f20" stroke-width="0.75"/>
<line x1="413.5" y1="218" x2="413.5" y2="304.8" stroke="#231f20" stroke-width="1.25" stroke-dasharray="1.25 4.0" stroke-dashoffset="0.6"/>
<circle cx="390" cy="303.6" r="2.05" fill="#000"/>
<circle cx="392" cy="303.3" r="2.05" fill="#000"/>
<circle cx="394.4" cy="303.5" r="2.05" fill="#000"/>
<circle cx="396.6" cy="303.7" r="2.05" fill="#000"/>
<circle cx="399" cy="303.8" r="2.05" fill="#000"/>
<line x1="388.4" y1="303.5" x2="400.6" y2="303.5" stroke="#231f20" stroke-width="0.8"/>
<line x1="431.5" y1="239.8" x2="431.5" y2="248.7" stroke="#29307f" stroke-width="0.75"/>
<line x1="428.7" y1="239.5" x2="434.9" y2="239.5" stroke="#29307f" stroke-width="0.75"/>
<line x1="428.7" y1="248.5" x2="434.9" y2="248.5" stroke="#29307f" stroke-width="0.75"/>
<line x1="425.3" y1="244.5" x2="438.3" y2="244.5" stroke="#231f20" stroke-width="0.85"/>
<circle cx="431.8" cy="223.8" r="2.05" fill="#29307f"/>
<circle cx="431.8" cy="231.7" r="2.05" fill="#29307f"/>
<circle cx="427.6" cy="241.1" r="2.05" fill="#29307f"/>
<circle cx="436.3" cy="242.6" r="2.05" fill="#29307f"/>
<circle cx="431.8" cy="249.4" r="2.05" fill="#29307f"/>
<circle cx="436.3" cy="254.6" r="2.05" fill="#29307f"/>
<circle cx="427.6" cy="253.4" r="2.05" fill="#29307f"/>
<circle cx="427.8" cy="256.2" r="2.05" fill="#29307f"/>
<line x1="456.5" y1="289.6" x2="456.5" y2="296.1" stroke="#ed1c24" stroke-width="0.75"/>
<line x1="453.6" y1="289.5" x2="459.8" y2="289.5" stroke="#ed1c24" stroke-width="0.75"/>
<line x1="453.6" y1="296.5" x2="459.8" y2="296.5" stroke="#ed1c24" stroke-width="0.75"/>
<line x1="450.2" y1="292.5" x2="463.2" y2="292.5" stroke="#231f20" stroke-width="0.85"/>
<rect x="454.77" y="274.38" width="3.85" height="3.85" fill="#ed1c24"/>
<rect x="454.77" y="283.47" width="3.85" height="3.85" fill="#ed1c24"/>
<rect x="452.38" y="289.18" width="3.85" height="3.85" fill="#ed1c24"/>
<rect x="457.97" y="288.68" width="3.85" height="3.85" fill="#ed1c24"/>
<rect x="454.77" y="292.27" width="3.85" height="3.85" fill="#ed1c24"/>
<rect x="450.57" y="298.18" width="3.85" height="3.85" fill="#ed1c24"/>
<rect x="454.77" y="298.18" width="3.85" height="3.85" fill="#ed1c24"/>
<rect x="458.88" y="297.88" width="3.85" height="3.85" fill="#ed1c24"/>
<path d="M394.5,204.3 V199.5 H456.5 V204.3" stroke="#231f20" stroke-width="0.75" fill="none"/>
<text x="425.1" y="196.6" font-size="8.3" text-anchor="middle" fill="#ef4036" stroke="#ef4036">0.0016</text>
<path d="M394.5,223.6 V211.5 H431.5 V213.9" stroke="#231f20" stroke-width="0.75" fill="none"/>
<text x="412.4" y="209.3" font-size="8.3" text-anchor="middle" fill="#231f20" stroke="#231f20">0.0006</text>
<path d="M431.5,219.6 V217.5 H456.5 V227.5" stroke="#231f20" stroke-width="0.75" fill="none"/>
<text x="450.2" y="215.4" font-size="8.3" text-anchor="middle" fill="#231f20" stroke="#231f20">0.0002</text>
<text x="396.5" y="313.2" font-size="8.2" text-anchor="end" fill="#231f20" transform="rotate(-45 396.5 313.2)" stroke="#231f20">PBS + αPD-1</text>
<text x="434.0" y="313.2" font-size="8.2" text-anchor="end" fill="#231f20" transform="rotate(-45 434.0 313.2)" stroke="#231f20">DCP-IL-12/tOVA + αPD-1</text>
<text x="458.7" y="313.2" font-size="8.2" text-anchor="end" fill="#231f20" transform="rotate(-45 458.7 313.2)" stroke="#231f20">DCP-IL-12/EVIR + αPD-1</text>
<text x="570.3" y="177.0" font-size="8.18" text-anchor="middle" fill="#231f20" stroke="#231f20">Spleen: non-OVA reactive</text>
<text x="570.3" y="187.2" font-size="8.18" text-anchor="middle" fill="#231f20" stroke="#231f20">CD8<tspan dy="-2.9" font-size="4.8">+</tspan><tspan dy="2.9" font-size="4.8">​</tspan> T cells</text>
<text x="503.4" y="262.3" font-size="8.2" text-anchor="middle" fill="#231f20" transform="rotate(-90 503.4 262.3)" stroke="#231f20">SIINFEKL-dex<tspan dy="-2.9" font-size="4.8"> −</tspan><tspan dy="2.9" font-size="4.8">​</tspan> CD44<tspan dy="-2.9" font-size="4.8">+</tspan><tspan dy="2.9" font-size="4.8">​</tspan> CD62L<tspan dy="-2.9" font-size="4.8">−</tspan><tspan dy="2.9" font-size="4.8">​</tspan> cells</text>
<text x="513.6" y="262.3" font-size="8.2" text-anchor="middle" fill="#231f20" transform="rotate(-90 513.6 262.3)" stroke="#231f20">(% of CD8<tspan dy="-2.9" font-size="4.8">+</tspan><tspan dy="2.9" font-size="4.8">​</tspan> T cells)</text>
<line x1="532.5" y1="217.43" x2="532.5" y2="304.98" stroke="#231f20" stroke-width="0.75"/>
<line x1="529.0" y1="217.5" x2="532.7" y2="217.5" stroke="#231f20" stroke-width="0.75"/>
<text x="526.8" y="220.75" font-size="8.2" text-anchor="end" fill="#231f20" stroke="#231f20">80</text>
<line x1="529.0" y1="239.5" x2="532.7" y2="239.5" stroke="#231f20" stroke-width="0.75"/>
<text x="526.8" y="242.35" font-size="8.2" text-anchor="end" fill="#231f20" stroke="#231f20">60</text>
<line x1="529.0" y1="261.5" x2="532.7" y2="261.5" stroke="#231f20" stroke-width="0.75"/>
<text x="526.8" y="264.05" font-size="8.2" text-anchor="end" fill="#231f20" stroke="#231f20">40</text>
<line x1="529.0" y1="282.5" x2="532.7" y2="282.5" stroke="#231f20" stroke-width="0.75"/>
<text x="526.8" y="285.85" font-size="8.2" text-anchor="end" fill="#231f20" stroke="#231f20">20</text>
<line x1="529.0" y1="304.5" x2="532.7" y2="304.5" stroke="#231f20" stroke-width="0.75"/>
<text x="526.8" y="307.55" font-size="8.2" text-anchor="end" fill="#231f20" stroke="#231f20">0</text>
<line x1="532.33" y1="304.5" x2="620.1" y2="304.5" stroke="#231f20" stroke-width="0.75"/>
<line x1="544.5" y1="304.6" x2="544.5" y2="308.7" stroke="#231f20" stroke-width="0.75"/>
<line x1="581.5" y1="304.6" x2="581.5" y2="308.7" stroke="#231f20" stroke-width="0.75"/>
<line x1="606.5" y1="304.6" x2="606.5" y2="308.7" stroke="#231f20" stroke-width="0.75"/>
<line x1="563.4" y1="217.8" x2="563.4" y2="304" stroke="#231f20" stroke-width="1.25" stroke-dasharray="1.25 3.55" stroke-dashoffset="0.6"/>
<circle cx="540.2" cy="294.6" r="2.05" fill="#000"/>
<circle cx="542.4" cy="292.9" r="2.05" fill="#000"/>
<circle cx="545.3" cy="293.8" r="2.05" fill="#000"/>
<circle cx="547.8" cy="294.3" r="2.05" fill="#000"/>
<circle cx="549.5" cy="295.9" r="2.05" fill="#000"/>
<line x1="581.5" y1="277.4" x2="581.5" y2="281.4" stroke="#29307f" stroke-width="0.75"/>
<line x1="578.5" y1="277.5" x2="584.9" y2="277.5" stroke="#29307f" stroke-width="0.75"/>
<line x1="578.5" y1="281.5" x2="584.9" y2="281.5" stroke="#29307f" stroke-width="0.75"/>
<line x1="575.2" y1="279.5" x2="588.2" y2="279.5" stroke="#231f20" stroke-width="0.85"/>
<circle cx="579.9" cy="273.8" r="2.05" fill="#29307f"/>
<circle cx="583.3" cy="273.8" r="2.05" fill="#29307f"/>
<circle cx="581.6" cy="276.9" r="2.05" fill="#29307f"/>
<circle cx="579" cy="280.2" r="2.05" fill="#29307f"/>
<circle cx="584.1" cy="280.2" r="2.05" fill="#29307f"/>
<circle cx="577.4" cy="283.6" r="2.05" fill="#29307f"/>
<circle cx="581.6" cy="284" r="2.05" fill="#29307f"/>
<circle cx="585.8" cy="283.1" r="2.05" fill="#29307f"/>
<line x1="606.5" y1="255.2" x2="606.5" y2="265" stroke="#ed1c24" stroke-width="0.75"/>
<line x1="603.7" y1="255.5" x2="610.1" y2="255.5" stroke="#ed1c24" stroke-width="0.75"/>
<line x1="603.7" y1="265.5" x2="610.1" y2="265.5" stroke="#ed1c24" stroke-width="0.75"/>
<line x1="600.5" y1="260.5" x2="613.3" y2="260.5" stroke="#231f20" stroke-width="0.85"/>
<rect x="604.98" y="233.07" width="3.85" height="3.85" fill="#ed1c24"/>
<rect x="604.98" y="248.77" width="3.85" height="3.85" fill="#ed1c24"/>
<rect x="604.98" y="256.38" width="3.85" height="3.85" fill="#ed1c24"/>
<rect x="604.98" y="259.77" width="3.85" height="3.85" fill="#ed1c24"/>
<rect x="600.28" y="264.27" width="3.85" height="3.85" fill="#ed1c24"/>
<rect x="609.18" y="262.27" width="3.85" height="3.85" fill="#ed1c24"/>
<rect x="609.18" y="265.68" width="3.85" height="3.85" fill="#ed1c24"/>
<rect x="604.98" y="276.97" width="3.85" height="3.85" fill="#ed1c24"/>
<path d="M544.5,223.2 V214.5 H606.5 V214.9" stroke="#231f20" stroke-width="0.75" fill="none"/>
<text x="578.8" y="212.4" font-size="8.3" text-anchor="middle" fill="#231f20" stroke="#231f20">&lt;0.0001</text>
<path d="M581.5,236.9 V226.5 H606.5 V226.2" stroke="#231f20" stroke-width="0.75" fill="none"/>
<text x="594.0" y="223.7" font-size="8.3" text-anchor="middle" fill="#231f20" stroke="#231f20">0.0008</text>
<path d="M544.5,274.7 V258.5 H581.5 V260.2" stroke="#231f20" stroke-width="0.75" fill="none"/>
<text x="548.6" y="255.4" font-size="8.3" text-anchor="middle" fill="#231f20" stroke="#231f20">0.0230</text>
<text x="546.8" y="312.5" font-size="8.2" text-anchor="end" fill="#231f20" transform="rotate(-45 546.8 312.5)" stroke="#231f20">PBS + αPD-1</text>
<text x="583.8" y="312.5" font-size="8.2" text-anchor="end" fill="#231f20" transform="rotate(-45 583.8 312.5)" stroke="#231f20">DCP-IL-12/tOVA + αPD-1</text>
<text x="608.8" y="312.5" font-size="8.2" text-anchor="end" fill="#231f20" transform="rotate(-45 608.8 312.5)" stroke="#231f20">DCP-IL-12/EVIR + αPD-1</text>
</g>
<g id="panel-e">
<text x="-0.6" y="401.1" font-size="12" text-anchor="start" fill="#000" font-weight="bold" stroke="#000">e</text>
<text x="76.8" y="411.8" font-size="9.3" text-anchor="middle" fill="#231f20" stroke="#231f20">PBS + αPD-1</text>
<text x="197.9" y="411.6" font-size="9.5" text-anchor="middle" fill="#231f20" stroke="#231f20">DCP-IL-12/tOVA</text>
<text x="198.0" y="423.0" font-size="9.3" text-anchor="middle" fill="#231f20" stroke="#231f20">+ αPD-1</text>
<text x="327.5" y="411.6" font-size="9.4" text-anchor="middle" fill="#231f20" stroke="#231f20">DCP-IL-12/EVIR</text>
<text x="327.3" y="423.0" font-size="9.3" text-anchor="middle" fill="#231f20" stroke="#231f20">+ αPD-1</text>
<defs>
<filter id="tex" x="-10%" y="-10%" width="120%" height="120%" color-interpolation-filters="sRGB">
  <feTurbulence type="fractalNoise" baseFrequency="0.11" numOctaves="2" seed="2" result="lo"/>
  <feDisplacementMap in="SourceGraphic" in2="lo" scale="4.5" xChannelSelector="R" yChannelSelector="G" result="shape"/>
  <feTurbulence type="fractalNoise" baseFrequency="0.7" numOctaves="2" seed="5" result="hi"/>
  <feColorMatrix in="hi" type="matrix" values="1.0 1.0 0 0 -0.5  1.0 1.0 0 0 -0.5  1.0 1.0 0 0 -0.5  0 0 0 0 1" result="gh"/>
  <feTurbulence type="fractalNoise" baseFrequency="0.13" numOctaves="2" seed="14" result="md"/>
  <feColorMatrix in="md" type="matrix" values="1.1 1.1 0 0 -0.6  1.1 1.1 0 0 -0.6  1.1 1.1 0 0 -0.6  0 0 0 0 1" result="gl"/>
  <feComposite in="gh" in2="gl" operator="arithmetic" k1="0" k2="0.6" k3="0.5" k4="-0.05" result="g"/>
  <feComposite in="shape" in2="g" operator="arithmetic" k1="0.86" k2="0.16" k3="0" k4="0" result="t"/>
  <feGaussianBlur in="t" stdDeviation="0.38"/>
</filter>
<filter id="tex2" x="-10%" y="-10%" width="120%" height="120%" color-interpolation-filters="sRGB">
  <feTurbulence type="fractalNoise" baseFrequency="0.16" numOctaves="2" seed="9" result="lo"/>
  <feDisplacementMap in="SourceGraphic" in2="lo" scale="3" xChannelSelector="R" yChannelSelector="G" result="shape"/>
  <feTurbulence type="fractalNoise" baseFrequency="0.6" numOctaves="2" seed="3" result="hi"/>
  <feColorMatrix in="hi" type="matrix" values="0.9 0.9 0 0 -0.4  0.9 0.9 0 0 -0.4  0.9 0.9 0 0 -0.4  0 0 0 0 1" result="g"/>
  <feComposite in="shape" in2="g" operator="arithmetic" k1="0.8" k2="0.24" k3="0" k4="0" result="t"/>
  <feGaussianBlur in="t" stdDeviation="0.35"/>
</filter>
<filter id="soft"><feGaussianBlur stdDeviation="0.6"/></filter>
<filter id="soft2"><feGaussianBlur stdDeviation="1.1"/></filter>
</defs>
<rect x="15.3" y="428.5" width="116.1" height="67.8" fill="#808080"/>
<rect x="40" y="428.5" width="67.2" height="67.8" fill="#020204"/>
<rect x="142.1" y="428.5" width="115.7" height="67.8" fill="#808080"/>
<rect x="180" y="428.5" width="40" height="67.8" fill="#020204"/>
<rect x="270.0" y="428.5" width="115.4" height="67.8" fill="#808080"/>
<rect x="270.0" y="428.5" width="115.4" height="67.8" fill="#020204"/>
<rect x="15.3" y="503.7" width="116.1" height="67.9" fill="#808080"/>
<rect x="53.6" y="503.7" width="40.4" height="67.9" fill="#020204"/>
<rect x="142.1" y="503.7" width="115.7" height="67.9" fill="#808080"/>
<rect x="173" y="503.7" width="54.1" height="67.9" fill="#020204"/>
<rect x="270.0" y="503.7" width="115.4" height="67.9" fill="#808080"/>
<rect x="290.8" y="503.7" width="73.3" height="67.9" fill="#020204"/>
<rect x="15.3" y="581.2" width="116.1" height="67.8" fill="#808080"/>
<rect x="36.9" y="581.2" width="73.3" height="67.8" fill="#020204"/>
<rect x="142.1" y="581.2" width="115.7" height="67.8" fill="#808080"/>
<rect x="162.2" y="581.2" width="73.8" height="67.8" fill="#020204"/>
<rect x="270.0" y="581.2" width="115.4" height="67.8" fill="#808080"/>
<rect x="285.1" y="581.2" width="84.7" height="67.8" fill="#020204"/>
<clipPath id="cl00"><rect x="40" y="428.5" width="67.2" height="67.8"/></clipPath>
<clipPath id="cl10"><rect x="53.6" y="503.7" width="40.4" height="67.9"/></clipPath>
<clipPath id="cl20"><rect x="36.9" y="581.2" width="73.3" height="67.8"/></clipPath>
<clipPath id="cl01"><rect x="180" y="428.5" width="40" height="67.8"/></clipPath>
<clipPath id="cl11"><rect x="173" y="503.7" width="54.1" height="67.9"/></clipPath>
<clipPath id="cl21"><rect x="162.2" y="581.2" width="73.8" height="67.8"/></clipPath>
<clipPath id="cl02"><rect x="270.0" y="428.5" width="115.4" height="67.8"/></clipPath>
<clipPath id="cl12"><rect x="290.8" y="503.7" width="73.3" height="67.9"/></clipPath>
<clipPath id="cl22"><rect x="285.1" y="581.2" width="84.7" height="67.8"/></clipPath>
<g clip-path="url(#cl00)">
<path d="M56.5,435.2 C57.6,433.5 60.1,433.2 62.2,432.9 C64.2,432.7 66.6,432.8 68.8,433.7 C71.0,434.5 73.3,436.4 75.5,438.0 C77.7,439.7 80.2,441.7 82.1,443.7 C84.0,445.8 85.7,448.0 86.9,450.4 C88.0,452.7 87.6,455.7 88.7,458.0 C89.9,460.2 91.8,461.3 93.5,463.6 C95.2,466.0 98.0,469.3 98.8,472.2 C99.6,475.0 98.6,478.0 98.2,480.7 C97.8,483.4 97.1,486.3 96.3,488.3 C95.5,490.4 94.9,492.6 93.5,493.1 C92.1,493.5 89.7,492.1 87.8,491.2 C85.9,490.2 83.5,488.8 82.1,487.4 C80.7,485.9 80.5,483.7 79.3,482.6 C78.0,481.5 75.9,481.7 74.5,480.7 C73.1,479.8 72.0,477.4 70.7,476.9 C69.5,476.5 68.2,478.7 66.9,477.9 C65.7,477.1 64.2,474.2 63.1,472.2 C62.0,470.1 60.6,467.9 60.3,465.5 C60.0,463.2 61.5,460.5 61.2,458.0 C60.9,455.4 59.3,452.9 58.4,450.4 C57.4,447.8 55.9,445.3 55.5,442.8 C55.2,440.2 55.4,436.8 56.5,435.2 Z" fill="#1c2238" opacity="0.7" filter="url(#soft2)"/>
<path d="M56.5,435.2 C57.6,433.5 60.1,433.2 62.2,432.9 C64.2,432.7 66.6,432.8 68.8,433.7 C71.0,434.5 73.3,436.4 75.5,438.0 C77.7,439.7 80.2,441.7 82.1,443.7 C84.0,445.8 85.7,448.0 86.9,450.4 C88.0,452.7 87.6,455.7 88.7,458.0 C89.9,460.2 91.8,461.3 93.5,463.6 C95.2,466.0 98.0,469.3 98.8,472.2 C99.6,475.0 98.6,478.0 98.2,480.7 C97.8,483.4 97.1,486.3 96.3,488.3 C95.5,490.4 94.9,492.6 93.5,493.1 C92.1,493.5 89.7,492.1 87.8,491.2 C85.9,490.2 83.5,488.8 82.1,487.4 C80.7,485.9 80.5,483.7 79.3,482.6 C78.0,481.5 75.9,481.7 74.5,480.7 C73.1,479.8 72.0,477.4 70.7,476.9 C69.5,476.5 68.2,478.7 66.9,477.9 C65.7,477.1 64.2,474.2 63.1,472.2 C62.0,470.1 60.6,467.9 60.3,465.5 C60.0,463.2 61.5,460.5 61.2,458.0 C60.9,455.4 59.3,452.9 58.4,450.4 C57.4,447.8 55.9,445.3 55.5,442.8 C55.2,440.2 55.4,436.8 56.5,435.2 Z" fill="#66708f" opacity="1.0" filter="url(#tex)"/>
<path d="M57.1,436.1 C57.9,433.7 61.8,433.7 64.1,433.7 C66.4,433.7 68.8,434.6 70.7,436.1 C72.6,437.6 74.8,440.1 75.5,442.8 C76.1,445.5 75.6,449.7 74.5,452.3 C73.4,454.8 70.7,457.3 68.8,458.0 C66.9,458.6 64.8,457.6 63.1,456.1 C61.5,454.5 60.0,451.8 59.0,448.5 C57.9,445.1 56.2,438.6 57.1,436.1 Z" fill="#b0a238" opacity="0.5" filter="url(#tex2)"/>
<path d="M64.1,456.1 C64.4,457.3 65.3,461.1 66.0,463.6 C66.6,466.2 67.6,470.0 67.9,471.2" fill="none" stroke="#b0a238" stroke-width="2.4" stroke-linecap="round" stroke-linejoin="round" opacity="0.85" filter="url(#tex2)"/>
<path d="M71.7,448.5 C72.1,450.4 73.7,456.2 74.5,459.8 C75.4,463.5 76.6,467.4 76.8,470.3 C77.0,473.1 75.7,475.8 75.5,476.9" fill="none" stroke="#b0a238" stroke-width="2.6" stroke-linecap="round" stroke-linejoin="round" opacity="0.85" filter="url(#tex2)"/>
<path d="M81.2,448.5 C81.9,450.2 84.3,455.6 85.9,458.9 C87.5,462.2 89.4,465.4 90.6,468.4 C91.9,471.4 93.0,475.5 93.5,476.9" fill="none" stroke="#b0a238" stroke-width="2.2" stroke-linecap="round" stroke-linejoin="round" opacity="0.8" filter="url(#tex2)"/>
<path d="M51.2,446.6 C51.5,447.7 52.4,451.2 53.3,453.2 C54.1,455.3 56.0,458.0 56.5,458.9" fill="none" stroke="#b0a238" stroke-width="1.0" stroke-linecap="round" stroke-linejoin="round" opacity="0.8" filter="url(#tex2)"/>
<ellipse cx="87.4" cy="486.4" rx="4.93" ry="2.47" fill="#c9cbb0" opacity="0.75" transform="rotate(40 87.4 486.4)" filter="url(#soft)"/>
<ellipse cx="91.2" cy="438.6" rx="1.33" ry="1.33" fill="#a9b8e4" opacity="0.85" transform="rotate(0 91.2 438.6)" filter="url(#soft)"/>
<ellipse cx="98.4" cy="460.8" rx="2.66" ry="2.66" fill="#333e66" opacity="0.9" transform="rotate(0 98.4 460.8)" filter="url(#soft)"/>
</g>
<g clip-path="url(#cl10)">
<path d="M74.5,507.1 C75.8,507.3 77.8,509.6 79.3,511.3 C80.7,512.9 82.0,514.9 83.1,517.0 C84.1,519.0 85.3,521.6 85.5,523.6 C85.7,525.7 84.8,527.4 84.4,529.3 C84.0,531.2 82.9,533.1 83.1,535.0 C83.2,536.9 85.0,538.6 85.5,540.7 C86.1,542.8 86.5,545.1 86.3,547.3 C86.1,549.5 85.4,551.9 84.4,554.0 C83.4,556.0 81.9,558.1 80.2,559.7 C78.6,561.3 76.4,562.7 74.5,563.5 C72.6,564.2 70.7,564.4 68.8,564.0 C66.9,563.7 64.8,562.8 63.1,561.6 C61.5,560.4 60.0,558.6 59.0,556.8 C57.9,555.1 57.2,553.0 57.1,551.1 C57.0,549.2 57.7,547.2 58.4,545.4 C59.1,543.7 60.3,542.4 61.2,540.7 C62.2,539.0 63.7,536.9 64.1,535.0 C64.5,533.1 63.2,531.4 63.5,529.3 C63.8,527.3 65.1,524.9 66.0,522.7 C66.9,520.5 67.9,518.1 68.8,516.0 C69.8,514.0 70.7,511.8 71.7,510.3 C72.6,508.8 73.3,507.0 74.5,507.1 Z" fill="#39446a" opacity="0.7" filter="url(#soft2)"/>
<path d="M74.5,507.1 C75.8,507.3 77.8,509.6 79.3,511.3 C80.7,512.9 82.0,514.9 83.1,517.0 C84.1,519.0 85.3,521.6 85.5,523.6 C85.7,525.7 84.8,527.4 84.4,529.3 C84.0,531.2 82.9,533.1 83.1,535.0 C83.2,536.9 85.0,538.6 85.5,540.7 C86.1,542.8 86.5,545.1 86.3,547.3 C86.1,549.5 85.4,551.9 84.4,554.0 C83.4,556.0 81.9,558.1 80.2,559.7 C78.6,561.3 76.4,562.7 74.5,563.5 C72.6,564.2 70.7,564.4 68.8,564.0 C66.9,563.7 64.8,562.8 63.1,561.6 C61.5,560.4 60.0,558.6 59.0,556.8 C57.9,555.1 57.2,553.0 57.1,551.1 C57.0,549.2 57.7,547.2 58.4,545.4 C59.1,543.7 60.3,542.4 61.2,540.7 C62.2,539.0 63.7,536.9 64.1,535.0 C64.5,533.1 63.2,531.4 63.5,529.3 C63.8,527.3 65.1,524.9 66.0,522.7 C66.9,520.5 67.9,518.1 68.8,516.0 C69.8,514.0 70.7,511.8 71.7,510.3 C72.6,508.8 73.3,507.0 74.5,507.1 Z" fill="#8693c0" opacity="1.0" filter="url(#tex)"/>
<path d="M74.1,507.9 C75.1,508.4 76.4,511.0 76.8,513.2 C77.2,515.3 77.0,519.0 76.4,520.8 C75.9,522.5 75.0,523.4 73.6,523.6 C72.2,523.9 68.9,523.6 68.1,522.3 C67.2,520.9 67.9,517.5 68.4,515.5 C69.0,513.4 70.2,511.4 71.1,510.1 C72.0,508.9 73.2,507.4 74.1,507.9 Z" fill="#d6c648" opacity="0.75" filter="url(#tex2)"/>
<ellipse cx="74.1" cy="517.0" rx="0.95" ry="5.31" fill="#e4e8f0" opacity="0.5" transform="rotate(0 74.1 517.0)" filter="url(#soft)"/>
<path d="M59.7,542.6 C59.6,543.7 58.7,547.2 58.8,549.2 C58.9,551.3 60.0,554.0 60.3,554.9" fill="none" stroke="#b0a238" stroke-width="1.6" stroke-linecap="round" stroke-linejoin="round" opacity="0.8" filter="url(#tex2)"/>
<path d="M73.6,554.9 C73.9,555.7 75.5,558.3 75.5,559.7 C75.5,561.0 73.9,562.4 73.6,562.9" fill="none" stroke="#b0a238" stroke-width="1.6" stroke-linecap="round" stroke-linejoin="round" opacity="0.7" filter="url(#tex2)"/>
<path d="M66.9,536.9 C67.2,535.3 68.9,534.5 69.2,536.0 C69.5,537.4 70.0,549.5 69.8,551.1 C69.5,552.7 67.2,553.5 66.9,552.1 C66.6,550.7 66.7,538.5 66.9,536.9 Z" fill="#04050a" opacity="0.5" filter="url(#soft)"/>
<ellipse cx="87.8" cy="517.0" rx="1.90" ry="1.90" fill="#6474ae" opacity="0.85" transform="rotate(0 87.8 517.0)" filter="url(#soft)"/>
<ellipse cx="92.9" cy="512.2" rx="0.95" ry="3.04" fill="#8090c8" opacity="0.85" transform="rotate(0 92.9 512.2)" filter="url(#soft)"/>
</g>
<g clip-path="url(#cl20)">
<path d="M57.8,592.2 C57.9,591.0 59.3,589.6 60.9,589.2 C62.4,588.8 64.6,589.6 66.9,589.9 C69.2,590.3 72.1,591.3 74.5,591.5 C76.9,591.6 78.9,590.5 81.2,590.7 C83.4,590.9 85.9,591.6 87.8,592.6 C89.7,593.6 91.6,595.1 92.5,596.8 C93.5,598.4 93.8,600.8 93.5,602.5 C93.2,604.1 92.1,605.8 90.6,606.6 C89.2,607.5 87.1,607.8 85.0,607.8 C82.8,607.7 80.1,607.1 77.9,606.3 C75.7,605.4 73.8,604.0 71.9,602.8 C69.9,601.7 68.1,600.4 66.2,599.4 C64.3,598.4 61.9,598.0 60.5,596.8 C59.1,595.6 57.8,593.5 57.8,592.2 Z" fill="#4a4624" opacity="0.7" filter="url(#soft2)"/>
<path d="M57.8,592.2 C57.9,591.0 59.3,589.6 60.9,589.2 C62.4,588.8 64.6,589.6 66.9,589.9 C69.2,590.3 72.1,591.3 74.5,591.5 C76.9,591.6 78.9,590.5 81.2,590.7 C83.4,590.9 85.9,591.6 87.8,592.6 C89.7,593.6 91.6,595.1 92.5,596.8 C93.5,598.4 93.8,600.8 93.5,602.5 C93.2,604.1 92.1,605.8 90.6,606.6 C89.2,607.5 87.1,607.8 85.0,607.8 C82.8,607.7 80.1,607.1 77.9,606.3 C75.7,605.4 73.8,604.0 71.9,602.8 C69.9,601.7 68.1,600.4 66.2,599.4 C64.3,598.4 61.9,598.0 60.5,596.8 C59.1,595.6 57.8,593.5 57.8,592.2 Z" fill="#c4b444" opacity="1.0" filter="url(#tex2)"/>
<path d="M81.7,593.9 C82.7,592.8 86.1,593.3 87.8,593.9 C89.5,594.6 91.3,596.3 92.2,597.7 C93.0,599.1 93.1,601.2 92.7,602.5 C92.3,603.8 91.0,604.9 89.7,605.5 C88.4,606.1 86.3,606.7 85.0,605.9 C83.6,605.1 82.3,602.6 81.7,600.6 C81.2,598.6 80.7,595.0 81.7,593.9 Z" fill="#8794bd" opacity="0.9" filter="url(#tex)"/>
<ellipse cx="59.7" cy="592.0" rx="2.47" ry="1.52" fill="#eef1f8" opacity="0.95" transform="rotate(-15 59.7 592.0)" filter="url(#soft)"/>
<path d="M43.8,629.4 C43.7,627.5 45.6,624.4 47.0,622.4 C48.4,620.4 50.0,618.5 52.1,617.3 C54.2,616.0 57.2,615.0 59.7,615.0 C62.2,615.0 65.2,616.0 67.3,617.3 C69.5,618.5 71.3,620.3 72.6,622.4 C74.0,624.5 75.2,627.4 75.5,630.0 C75.7,632.5 75.3,635.8 74.1,637.6 C73.0,639.4 70.7,640.4 68.4,640.8 C66.2,641.2 63.3,640.7 60.9,640.0 C58.5,639.4 56.2,638.1 54.0,637.0 C51.8,635.9 49.3,634.8 47.6,633.6 C45.9,632.3 43.9,631.3 43.8,629.4 Z" fill="#1c2238" opacity="0.7" filter="url(#soft2)"/>
<path d="M43.8,629.4 C43.7,627.5 45.6,624.4 47.0,622.4 C48.4,620.4 50.0,618.5 52.1,617.3 C54.2,616.0 57.2,615.0 59.7,615.0 C62.2,615.0 65.2,616.0 67.3,617.3 C69.5,618.5 71.3,620.3 72.6,622.4 C74.0,624.5 75.2,627.4 75.5,630.0 C75.7,632.5 75.3,635.8 74.1,637.6 C73.0,639.4 70.7,640.4 68.4,640.8 C66.2,641.2 63.3,640.7 60.9,640.0 C58.5,639.4 56.2,638.1 54.0,637.0 C51.8,635.9 49.3,634.8 47.6,633.6 C45.9,632.3 43.9,631.3 43.8,629.4 Z" fill="#7b88b4" opacity="1.0" filter="url(#tex)"/>
<path d="M45.3,628.6 C45.3,627.1 47.6,624.5 48.9,623.3 C50.2,622.1 52.2,620.8 53.3,621.4 C54.3,622.1 55.3,625.4 55.2,627.1 C55.1,628.9 53.7,631.0 52.7,631.9 C51.7,632.8 50.1,633.0 48.9,632.4 C47.7,631.9 45.3,630.2 45.3,628.6 Z" fill="#b0a238" opacity="0.8" filter="url(#tex2)"/>
<path d="M61.2,619.5 C61.7,620.8 63.4,624.6 64.1,627.1 C64.7,629.7 64.9,633.5 65.0,634.7" fill="none" stroke="#b0a238" stroke-width="1.2" stroke-linecap="round" stroke-linejoin="round" opacity="0.6" filter="url(#tex2)"/>
<path d="M101.1,585.8 C100.8,587.6 100.0,593.0 99.2,596.8 C98.4,600.5 96.9,604.4 96.3,608.2 C95.8,612.0 96.2,616.1 95.8,619.5 C95.3,623.0 94.7,625.9 93.5,629.0 C92.3,632.2 89.5,636.9 88.7,638.5" fill="none" stroke="#8a98cc" stroke-width="6.5" stroke-linecap="round" stroke-linejoin="round" opacity="0.38" filter="url(#tex2)"/>
<path d="M94.4,594.9 C95.2,595.8 97.8,598.7 99.2,600.6 C100.6,602.5 102.3,605.3 103.0,606.3" fill="none" stroke="#8a98cc" stroke-width="1.6" stroke-linecap="round" stroke-linejoin="round" opacity="0.45" filter="url(#tex2)"/>
<ellipse cx="82.1" cy="630.4" rx="0.76" ry="1.14" fill="#dfe6f8" opacity="0.9" transform="rotate(0 82.1 630.4)" filter="url(#soft)"/>
<path d="M66.9,608.2 C67.9,608.6 70.7,610.4 72.6,611.0 C74.5,611.6 77.4,611.8 78.3,612.0" fill="none" stroke="#6f7cb0" stroke-width="1.0" stroke-linecap="round" stroke-linejoin="round" opacity="0.5" filter="url(#tex2)"/>
</g>
<g clip-path="url(#cl01)">
<path d="M199.6,431.8 C201.4,431.2 204.2,430.8 206.2,431.0 C208.3,431.3 210.5,432.0 211.9,433.3 C213.3,434.6 214.4,436.8 214.7,439.0 C215.1,441.2 214.7,444.0 214.2,446.6 C213.7,449.1 212.8,451.8 211.9,454.2 C211.0,456.5 210.2,458.7 209.1,460.8 C207.9,462.9 205.6,464.6 205.3,466.5 C204.9,468.4 206.7,470.1 207.2,472.2 C207.6,474.2 208.0,476.6 207.7,478.8 C207.4,481.0 206.5,483.5 205.3,485.5 C204.1,487.4 202.4,489.3 200.5,490.6 C198.6,491.9 196.1,492.9 193.9,493.1 C191.7,493.2 189.0,492.8 187.2,491.7 C185.4,490.6 183.9,488.4 183.1,486.4 C182.2,484.4 181.9,481.8 182.1,479.8 C182.3,477.7 183.2,475.7 184.4,474.1 C185.6,472.5 187.5,471.2 189.1,470.3 C190.7,469.3 193.2,469.8 193.9,468.4 C194.5,467.0 193.4,464.1 192.9,461.7 C192.5,459.4 191.4,456.7 191.0,454.2 C190.6,451.6 190.5,449.1 190.6,446.6 C190.8,444.0 191.2,441.0 192.0,439.0 C192.7,436.9 193.9,435.4 195.2,434.2 C196.5,433.0 197.7,432.3 199.6,431.8 Z" fill="#1c2238" opacity="0.7" filter="url(#soft2)"/>
<path d="M199.6,431.8 C201.4,431.2 204.2,430.8 206.2,431.0 C208.3,431.3 210.5,432.0 211.9,433.3 C213.3,434.6 214.4,436.8 214.7,439.0 C215.1,441.2 214.7,444.0 214.2,446.6 C213.7,449.1 212.8,451.8 211.9,454.2 C211.0,456.5 210.2,458.7 209.1,460.8 C207.9,462.9 205.6,464.6 205.3,466.5 C204.9,468.4 206.7,470.1 207.2,472.2 C207.6,474.2 208.0,476.6 207.7,478.8 C207.4,481.0 206.5,483.5 205.3,485.5 C204.1,487.4 202.4,489.3 200.5,490.6 C198.6,491.9 196.1,492.9 193.9,493.1 C191.7,493.2 189.0,492.8 187.2,491.7 C185.4,490.6 183.9,488.4 183.1,486.4 C182.2,484.4 181.9,481.8 182.1,479.8 C182.3,477.7 183.2,475.7 184.4,474.1 C185.6,472.5 187.5,471.2 189.1,470.3 C190.7,469.3 193.2,469.8 193.9,468.4 C194.5,467.0 193.4,464.1 192.9,461.7 C192.5,459.4 191.4,456.7 191.0,454.2 C190.6,451.6 190.5,449.1 190.6,446.6 C190.8,444.0 191.2,441.0 192.0,439.0 C192.7,436.9 193.9,435.4 195.2,434.2 C196.5,433.0 197.7,432.3 199.6,431.8 Z" fill="#6373ae" opacity="1.0" filter="url(#tex)"/>
<path d="M200.5,434.2 C201.6,434.9 205.7,436.3 207.2,438.0 C208.6,439.8 208.7,443.6 209.1,444.7" fill="none" stroke="#0a0c18" stroke-width="0.8" stroke-linecap="round" stroke-linejoin="round" opacity="0.6" filter="url(#soft)"/>
<path d="M186.3,476.9 C187.4,477.4 190.6,478.8 192.9,479.8 C195.3,480.7 199.3,482.1 200.5,482.6" fill="none" stroke="#0a0c18" stroke-width="0.8" stroke-linecap="round" stroke-linejoin="round" opacity="0.6" filter="url(#soft)"/>
</g>
<g clip-path="url(#cl11)">
<path d="M186.3,511.3 C187.8,509.5 190.6,510.2 192.9,510.3 C195.3,510.5 197.8,511.8 200.5,512.2 C203.2,512.7 206.5,512.5 209.1,513.2 C211.6,513.8 213.5,515.5 215.7,516.0 C217.9,516.6 221.0,516.1 222.3,516.6 C223.7,517.1 224.0,516.9 223.7,518.9 C223.3,520.8 221.6,524.9 220.4,528.4 C219.3,531.8 217.9,536.0 216.6,539.7 C215.4,543.5 214.3,547.3 212.9,551.1 C211.4,554.9 209.6,559.3 208.1,562.5 C206.6,565.7 205.5,570.2 203.9,570.5 C202.4,570.8 200.5,566.2 198.6,564.4 C196.8,562.6 194.8,561.3 192.9,559.7 C191.0,558.1 189.3,556.5 187.2,554.9 C185.2,553.3 182.3,551.6 180.6,550.2 C178.9,548.8 177.1,548.3 176.8,546.4 C176.5,544.5 177.9,541.5 178.7,538.8 C179.5,536.1 180.7,533.3 181.5,530.3 C182.4,527.3 183.0,523.9 183.8,520.8 C184.6,517.6 184.8,513.0 186.3,511.3 Z" fill="#39446a" opacity="0.7" filter="url(#soft2)"/>
<path d="M186.3,511.3 C187.8,509.5 190.6,510.2 192.9,510.3 C195.3,510.5 197.8,511.8 200.5,512.2 C203.2,512.7 206.5,512.5 209.1,513.2 C211.6,513.8 213.5,515.5 215.7,516.0 C217.9,516.6 221.0,516.1 222.3,516.6 C223.7,517.1 224.0,516.9 223.7,518.9 C223.3,520.8 221.6,524.9 220.4,528.4 C219.3,531.8 217.9,536.0 216.6,539.7 C215.4,543.5 214.3,547.3 212.9,551.1 C211.4,554.9 209.6,559.3 208.1,562.5 C206.6,565.7 205.5,570.2 203.9,570.5 C202.4,570.8 200.5,566.2 198.6,564.4 C196.8,562.6 194.8,561.3 192.9,559.7 C191.0,558.1 189.3,556.5 187.2,554.9 C185.2,553.3 182.3,551.6 180.6,550.2 C178.9,548.8 177.1,548.3 176.8,546.4 C176.5,544.5 177.9,541.5 178.7,538.8 C179.5,536.1 180.7,533.3 181.5,530.3 C182.4,527.3 183.0,523.9 183.8,520.8 C184.6,517.6 184.8,513.0 186.3,511.3 Z" fill="#8492c2" opacity="1.0" filter="url(#tex)"/>
<path d="M197.1,515.1 C197.5,513.5 200.6,514.9 200.9,516.6 C201.2,518.3 200.7,529.0 200.5,532.2 C200.3,535.3 199.5,546.2 199.0,547.7 C198.5,549.2 196.2,548.5 196.0,547.0 C195.7,545.4 196.6,535.3 196.7,532.2 C196.8,529.0 196.7,516.6 197.1,515.1 Z" fill="#04050a" opacity="0.8" filter="url(#soft)"/>
<path d="M210.4,516.6 C211.0,514.7 220.3,516.4 220.6,518.5 C221.0,520.6 215.2,538.0 214.2,537.8 C213.2,537.7 209.7,518.5 210.4,516.6 Z" fill="#04050a" opacity="0.85" filter="url(#soft)"/>
<path d="M176.8,517.0 C177.3,516.9 178.7,516.6 179.6,516.4 C180.6,516.2 182.0,515.8 182.5,515.6" fill="none" stroke="#8a98cc" stroke-width="1.0" stroke-linecap="round" stroke-linejoin="round" opacity="0.7" filter="url(#tex2)"/>
</g>
<g clip-path="url(#cl21)">
<path d="M167.3,630.9 C167.0,628.2 168.6,624.4 170.2,621.4 C171.7,618.4 174.4,615.6 176.8,612.9 C179.2,610.2 181.7,607.8 184.4,605.3 C187.1,602.8 189.9,599.8 192.9,597.7 C195.9,595.7 199.3,594.1 202.4,593.0 C205.6,591.9 209.1,591.1 211.9,591.1 C214.7,591.1 217.3,591.6 219.5,593.0 C221.7,594.4 223.9,597.1 225.2,599.6 C226.4,602.1 227.1,605.2 227.1,608.2 C227.1,611.2 226.3,614.5 225.2,617.6 C224.1,620.8 222.3,624.3 220.4,627.1 C218.5,630.0 216.5,632.7 213.8,634.7 C211.1,636.8 207.8,638.4 204.3,639.5 C200.8,640.6 196.7,641.2 192.9,641.4 C189.1,641.5 185.0,641.0 181.5,640.4 C178.1,639.8 174.4,639.1 172.1,637.6 C169.7,636.0 167.6,633.6 167.3,630.9 Z" fill="#1c2238" opacity="0.7" filter="url(#soft2)"/>
<path d="M167.3,630.9 C167.0,628.2 168.6,624.4 170.2,621.4 C171.7,618.4 174.4,615.6 176.8,612.9 C179.2,610.2 181.7,607.8 184.4,605.3 C187.1,602.8 189.9,599.8 192.9,597.7 C195.9,595.7 199.3,594.1 202.4,593.0 C205.6,591.9 209.1,591.1 211.9,591.1 C214.7,591.1 217.3,591.6 219.5,593.0 C221.7,594.4 223.9,597.1 225.2,599.6 C226.4,602.1 227.1,605.2 227.1,608.2 C227.1,611.2 226.3,614.5 225.2,617.6 C224.1,620.8 222.3,624.3 220.4,627.1 C218.5,630.0 216.5,632.7 213.8,634.7 C211.1,636.8 207.8,638.4 204.3,639.5 C200.8,640.6 196.7,641.2 192.9,641.4 C189.1,641.5 185.0,641.0 181.5,640.4 C178.1,639.8 174.4,639.1 172.1,637.6 C169.7,636.0 167.6,633.6 167.3,630.9 Z" fill="#55649a" opacity="1.0" filter="url(#tex)"/>
<path d="M184.4,605.3 C184.5,603.6 189.9,599.8 192.9,597.7 C195.9,595.7 199.3,594.1 202.4,593.0 C205.6,591.9 209.1,591.1 211.9,591.1 C214.7,591.1 217.3,591.6 219.5,593.0 C221.7,594.4 224.0,597.1 225.2,599.6 C226.4,602.1 227.2,605.6 226.7,608.2 C226.2,610.7 224.2,614.6 222.3,614.8 C220.5,615.0 217.9,610.7 215.7,609.1 C213.5,607.5 211.6,606.1 209.1,605.3 C206.5,604.5 203.4,603.9 200.5,604.4 C197.7,604.8 194.7,608.0 192.0,608.2 C189.3,608.3 184.2,607.0 184.4,605.3 Z" fill="#8292c6" opacity="0.75" filter="url(#tex)"/>
<path d="M183.4,609.1 C182.8,610.7 185.9,627.8 186.9,628.1 C187.8,628.4 193.6,613.8 193.3,612.0 C193.0,610.1 184.1,607.5 183.4,609.1 Z" fill="#04050a" opacity="0.8" filter="url(#soft)"/>
<path d="M205.8,593.4 C205.4,594.6 207.5,606.5 208.1,606.6 C208.8,606.8 212.5,595.8 212.3,594.5 C212.1,593.2 206.2,592.1 205.8,593.4 Z" fill="#04050a" opacity="0.75" filter="url(#soft)"/>
<path d="M196.3,602.5 C196.0,603.5 197.2,614.6 197.7,614.8 C198.2,615.0 201.6,605.6 201.5,604.4 C201.3,603.1 196.7,601.4 196.3,602.5 Z" fill="#04050a" opacity="0.6" filter="url(#soft)"/>
<ellipse cx="165.4" cy="614.8" rx="1.90" ry="1.90" fill="#5a6aa4" opacity="0.85" transform="rotate(0 165.4 614.8)" filter="url(#soft)"/>
<ellipse cx="175.8" cy="599.6" rx="1.71" ry="2.66" fill="#4a5a94" opacity="0.8" transform="rotate(0 175.8 599.6)" filter="url(#soft)"/>
<ellipse cx="163.9" cy="593.0" rx="1.33" ry="1.71" fill="#44548c" opacity="0.7" transform="rotate(0 163.9 593.0)" filter="url(#soft)"/>
</g>
<g clip-path="url(#cl02)">
<path d="M308.5,446.6 C309.7,444.4 311.8,443.4 314.2,442.4 C316.6,441.4 319.4,440.9 322.7,440.5 C326.0,440.1 330.3,439.9 334.1,439.9 C337.9,439.9 341.7,440.0 345.5,440.5 C349.3,441.0 353.6,441.4 356.9,442.8 C360.2,444.1 362.9,446.1 365.4,448.5 C367.9,450.8 370.7,454.6 371.7,457.0 C372.6,459.4 372.2,460.5 371.1,462.7 C370.1,464.9 367.6,467.9 365.4,470.3 C363.2,472.7 360.2,474.7 357.8,476.9 C355.5,479.1 353.2,481.8 351.2,483.6 C349.1,485.3 347.7,487.0 345.5,487.4 C343.3,487.7 340.7,486.4 337.9,485.5 C335.1,484.5 331.6,483.1 328.4,481.7 C325.3,480.2 321.6,478.7 318.9,476.9 C316.2,475.2 314.0,473.4 312.3,471.2 C310.5,469.0 309.3,466.3 308.5,463.6 C307.6,461.0 307.2,458.0 307.2,455.1 C307.2,452.3 307.3,448.7 308.5,446.6 Z" fill="#1c2238" opacity="0.7" filter="url(#soft2)"/>
<path d="M278.1,458.0 C279.1,455.9 280.8,453.6 282.9,452.3 C284.9,450.9 288.1,450.1 290.5,450.0 C292.8,449.8 295.0,450.3 297.1,451.3 C299.2,452.3 301.4,454.0 302.8,456.1 C304.2,458.1 305.3,461.1 305.6,463.6 C306.0,466.2 305.6,469.0 304.7,471.2 C303.7,473.4 302.0,475.6 300.0,476.9 C297.9,478.3 294.9,479.2 292.4,479.2 C289.8,479.2 287.0,478.3 284.8,476.9 C282.6,475.6 280.4,473.3 279.1,471.2 C277.7,469.2 277.0,466.8 276.8,464.6 C276.6,462.4 277.1,460.0 278.1,458.0 Z" fill="#1c2238" opacity="0.7" filter="url(#soft2)"/>
<path d="M308.5,446.6 C309.7,444.4 311.8,443.4 314.2,442.4 C316.6,441.4 319.4,440.9 322.7,440.5 C326.0,440.1 330.3,439.9 334.1,439.9 C337.9,439.9 341.7,440.0 345.5,440.5 C349.3,441.0 353.6,441.4 356.9,442.8 C360.2,444.1 362.9,446.1 365.4,448.5 C367.9,450.8 370.7,454.6 371.7,457.0 C372.6,459.4 372.2,460.5 371.1,462.7 C370.1,464.9 367.6,467.9 365.4,470.3 C363.2,472.7 360.2,474.7 357.8,476.9 C355.5,479.1 353.2,481.8 351.2,483.6 C349.1,485.3 347.7,487.0 345.5,487.4 C343.3,487.7 340.7,486.4 337.9,485.5 C335.1,484.5 331.6,483.1 328.4,481.7 C325.3,480.2 321.6,478.7 318.9,476.9 C316.2,475.2 314.0,473.4 312.3,471.2 C310.5,469.0 309.3,466.3 308.5,463.6 C307.6,461.0 307.2,458.0 307.2,455.1 C307.2,452.3 307.3,448.7 308.5,446.6 Z" fill="#6575ab" opacity="1.0" filter="url(#tex)"/>
<path d="M278.1,458.0 C279.1,455.9 280.8,453.6 282.9,452.3 C284.9,450.9 288.1,450.1 290.5,450.0 C292.8,449.8 295.0,450.3 297.1,451.3 C299.2,452.3 301.4,454.0 302.8,456.1 C304.2,458.1 305.3,461.1 305.6,463.6 C306.0,466.2 305.6,469.0 304.7,471.2 C303.7,473.4 302.0,475.6 300.0,476.9 C297.9,478.3 294.9,479.2 292.4,479.2 C289.8,479.2 287.0,478.3 284.8,476.9 C282.6,475.6 280.4,473.3 279.1,471.2 C277.7,469.2 277.0,466.8 276.8,464.6 C276.6,462.4 277.1,460.0 278.1,458.0 Z" fill="#6a7ab0" opacity="1.0" filter="url(#tex)"/>
<path d="M294.6,452.6 C295.9,453.1 300.1,453.8 302.2,455.7 C304.3,457.5 305.7,460.9 307.2,463.6 C308.6,466.4 309.0,470.0 311.0,472.2 C312.9,474.4 316.0,475.5 318.9,476.9 C321.8,478.3 325.3,479.6 328.4,480.7 C331.6,481.9 334.8,482.8 337.9,483.9 C341.0,485.1 345.5,487.0 347.0,487.6" fill="none" stroke="#a89a30" stroke-width="4.2" stroke-linecap="round" stroke-linejoin="round" opacity="0.95" filter="url(#tex2)"/>
<path d="M297.1,453.2 C297.7,452.6 302.6,454.2 304.7,456.1 C306.8,458.0 308.0,461.7 309.4,464.6 C310.9,467.4 312.0,471.1 313.6,473.1 C315.2,475.2 319.0,476.1 318.9,476.9 C318.9,477.7 315.3,478.2 313.2,477.9 C311.2,477.6 308.3,476.8 306.6,475.0 C304.9,473.3 303.7,470.0 302.8,467.4 C301.8,464.9 301.8,462.2 300.9,459.8 C300.0,457.5 296.5,453.8 297.1,453.2 Z" fill="#a89a30" opacity="0.85" filter="url(#tex2)"/>
<path d="M300.0,460.8 C300.1,462.2 301.4,466.6 300.9,469.3 C300.4,472.0 297.7,475.7 297.1,476.9" fill="none" stroke="#a89a30" stroke-width="2.4" stroke-linecap="round" stroke-linejoin="round" opacity="0.8" filter="url(#tex2)"/>
<path d="M293.3,478.1 C295.0,477.9 300.7,476.7 303.7,476.9 C306.8,477.1 310.4,478.8 311.7,479.2" fill="none" stroke="#a89a30" stroke-width="1.6" stroke-linecap="round" stroke-linejoin="round" opacity="0.8" filter="url(#tex2)"/>
<path d="M318.9,460.8 C319.9,461.9 322.1,465.4 324.6,467.4 C327.1,469.5 332.5,472.2 334.1,473.1" fill="none" stroke="#a89a30" stroke-width="1.0" stroke-linecap="round" stroke-linejoin="round" opacity="0.45" filter="url(#tex2)"/>
<ellipse cx="301.3" cy="494.0" rx="3.61" ry="2.28" fill="#d5def8" opacity="0.95" transform="rotate(0 301.3 494.0)" filter="url(#soft)"/>
<ellipse cx="364.5" cy="458.0" rx="2.28" ry="3.42" fill="#8d9cd0" opacity="0.7" transform="rotate(0 364.5 458.0)" filter="url(#soft)"/>
<ellipse cx="381.9" cy="457.0" rx="1.33" ry="1.71" fill="#46568e" opacity="0.8" transform="rotate(0 381.9 457.0)" filter="url(#soft)"/>
<ellipse cx="381.2" cy="482.6" rx="1.71" ry="2.09" fill="#3a487c" opacity="0.7" transform="rotate(0 381.2 482.6)" filter="url(#soft)"/>
<path d="M378.1,496.3 C378.9,496.0 381.3,495.5 382.5,494.4 C383.7,493.3 384.9,490.6 385.3,489.8" fill="none" stroke="#8f8a30" stroke-width="1.4" stroke-linecap="round" stroke-linejoin="round" opacity="0.8" filter="url(#soft)"/>
</g>
<g clip-path="url(#cl12)">
<path d="M318.9,511.3 C321.1,510.1 322.4,508.6 324.6,507.9 C326.8,507.2 330.0,506.7 332.2,507.1 C334.4,507.5 336.0,509.2 337.9,510.3 C339.8,511.5 341.7,513.7 343.6,514.1 C345.5,514.6 348.0,512.4 349.3,513.2 C350.6,514.0 351.1,516.7 351.2,518.9 C351.2,521.1 349.7,523.9 349.7,526.5 C349.7,529.0 351.1,531.5 351.2,534.1 C351.3,536.6 350.7,539.1 350.2,541.6 C349.8,544.2 348.5,547.0 348.3,549.2 C348.2,551.4 349.8,552.7 349.3,554.9 C348.8,557.1 347.4,560.5 345.5,562.5 C343.6,564.6 340.7,566.6 337.9,567.3 C335.1,567.9 331.6,566.9 328.4,566.3 C325.3,565.7 321.8,564.7 318.9,563.5 C316.1,562.2 313.7,560.6 311.3,558.7 C309.0,556.8 306.8,554.3 304.7,552.1 C302.6,549.9 300.9,547.0 299.0,545.4 C297.1,543.9 293.6,544.2 293.3,542.6 C293.0,541.0 295.8,538.3 297.1,536.0 C298.4,533.6 299.6,530.9 300.9,528.4 C302.2,525.8 303.0,523.0 304.7,520.8 C306.4,518.6 309.0,516.7 311.3,515.1 C313.7,513.5 316.7,512.5 318.9,511.3 Z" fill="#1c2238" opacity="0.7" filter="url(#soft2)"/>
<path d="M318.9,511.3 C321.1,510.1 322.4,508.6 324.6,507.9 C326.8,507.2 330.0,506.7 332.2,507.1 C334.4,507.5 336.0,509.2 337.9,510.3 C339.8,511.5 341.7,513.7 343.6,514.1 C345.5,514.6 348.0,512.4 349.3,513.2 C350.6,514.0 351.1,516.7 351.2,518.9 C351.2,521.1 349.7,523.9 349.7,526.5 C349.7,529.0 351.1,531.5 351.2,534.1 C351.3,536.6 350.7,539.1 350.2,541.6 C349.8,544.2 348.5,547.0 348.3,549.2 C348.2,551.4 349.8,552.7 349.3,554.9 C348.8,557.1 347.4,560.5 345.5,562.5 C343.6,564.6 340.7,566.6 337.9,567.3 C335.1,567.9 331.6,566.9 328.4,566.3 C325.3,565.7 321.8,564.7 318.9,563.5 C316.1,562.2 313.7,560.6 311.3,558.7 C309.0,556.8 306.8,554.3 304.7,552.1 C302.6,549.9 300.9,547.0 299.0,545.4 C297.1,543.9 293.6,544.2 293.3,542.6 C293.0,541.0 295.8,538.3 297.1,536.0 C298.4,533.6 299.6,530.9 300.9,528.4 C302.2,525.8 303.0,523.0 304.7,520.8 C306.4,518.6 309.0,516.7 311.3,515.1 C313.7,513.5 316.7,512.5 318.9,511.3 Z" fill="#6a79ad" opacity="1.0" filter="url(#tex)"/>
<path d="M302.8,548.3 C303.4,547.2 307.1,546.2 309.4,546.4 C311.8,546.5 314.8,547.8 317.0,549.2 C319.2,550.7 321.5,552.9 322.7,554.9 C324.0,557.0 325.3,560.1 324.6,561.6 C324.0,563.0 321.1,563.9 318.9,563.5 C316.7,563.0 313.5,560.5 311.3,558.7 C309.1,557.0 307.1,554.8 305.6,553.0 C304.2,551.3 302.2,549.4 302.8,548.3 Z" fill="#cbb93c" opacity="0.95" filter="url(#tex2)"/>
<path d="M318.0,531.2 C318.9,529.9 322.7,528.2 324.6,527.4 C326.5,526.6 327.8,526.1 329.4,526.5 C330.9,526.8 334.3,528.2 334.1,529.3 C333.9,530.4 330.3,532.0 328.4,533.1 C326.5,534.2 324.3,535.6 322.7,536.0 C321.1,536.3 319.7,535.8 318.9,535.0 C318.1,534.2 317.0,532.5 318.0,531.2 Z" fill="#d2c244" opacity="0.9" filter="url(#tex2)"/>
<path d="M317.4,537.8 C317.7,539.1 318.8,542.9 318.9,545.4 C319.1,548.0 318.3,551.8 318.2,553.0" fill="none" stroke="#b0a238" stroke-width="1.8" stroke-linecap="round" stroke-linejoin="round" opacity="0.8" filter="url(#tex2)"/>
<path d="M324.6,536.0 C324.9,537.5 326.4,542.3 326.5,545.4 C326.7,548.6 325.7,553.3 325.6,554.9" fill="none" stroke="#b0a238" stroke-width="1.2" stroke-linecap="round" stroke-linejoin="round" opacity="0.6" filter="url(#tex2)"/>
<path d="M328.4,529.3 C329.2,528.4 334.8,529.5 335.1,530.3 C335.3,531.0 331.4,535.2 331.1,536.5 C330.7,537.8 329.6,542.8 331.4,543.5 C333.3,544.2 347.8,543.2 349.7,543.5 C351.5,543.9 351.6,546.4 349.7,546.8 C347.7,547.1 332.1,547.5 329.9,546.8 C327.7,546.1 327.8,541.5 327.7,539.7 C327.5,538.0 327.7,530.3 328.4,529.3 Z" fill="#04050a" opacity="0.8" filter="url(#soft)"/>
<path d="M293.3,542.8 C297.6,541.3 311.5,536.8 318.9,534.1 C326.4,531.3 332.7,528.8 337.9,526.5 C343.2,524.1 348.3,520.9 350.4,519.8" fill="none" stroke="#aab6e0" stroke-width="0.8" stroke-linecap="round" stroke-linejoin="round" opacity="0.55" filter="url(#soft)"/>
<path d="M330.7,547.7 C332.5,546.0 347.8,547.0 349.7,547.7 C351.5,548.4 349.3,553.4 348.9,554.9 C348.5,556.4 346.6,561.6 345.5,562.9 C344.4,564.1 339.3,567.3 337.9,567.4 C336.5,567.6 332.2,566.8 331.4,564.8 C330.7,562.8 328.9,549.4 330.7,547.7 Z" fill="#04050a" opacity="0.5" filter="url(#soft2)"/>
<path d="M352.1,517.0 C353.2,515.4 358.9,517.6 360.7,520.8 C362.4,523.9 362.7,530.6 362.6,536.0 C362.4,541.3 361.6,548.3 359.7,553.0 C357.8,557.8 352.3,565.7 351.2,564.4 C350.1,563.1 352.6,551.1 353.1,545.4 C353.6,539.7 354.2,535.0 354.0,530.3 C353.9,525.5 351.0,518.6 352.1,517.0 Z" fill="#6a79ad" opacity="0.35" filter="url(#tex2)"/>
</g>
<g clip-path="url(#cl22)">
<path d="M300.0,598.7 C300.7,597.2 302.8,596.1 304.7,595.8 C306.6,595.5 309.8,597.4 311.3,596.8 C312.9,596.1 313.5,591.4 314.2,592.0 C314.8,592.7 315.3,597.9 315.1,600.6 C315.0,603.3 314.3,606.3 313.2,608.2 C312.1,610.1 310.2,611.6 308.5,612.0 C306.8,612.3 304.2,611.3 302.8,610.1 C301.4,608.8 300.4,606.3 300.0,604.4 C299.5,602.5 299.2,600.1 300.0,598.7 Z" fill="#7684b6" opacity="0.8" filter="url(#tex)"/>
<path d="M300.9,609.1 C301.5,607.9 305.2,609.4 306.6,611.0 C308.0,612.6 307.7,616.5 309.4,618.6 C311.2,620.6 314.2,622.2 317.0,623.3 C319.9,624.4 323.8,625.2 326.5,625.2 C329.2,625.3 331.1,623.6 333.2,623.7 C335.2,623.9 338.7,625.2 338.9,626.2 C339.0,627.1 336.5,628.7 334.1,629.4 C331.7,630.1 327.8,630.4 324.6,630.2 C321.5,630.0 318.0,629.2 315.1,628.3 C312.3,627.3 309.6,626.2 307.5,624.5 C305.5,622.8 303.9,620.6 302.8,618.0 C301.7,615.5 300.3,610.3 300.9,609.1 Z" fill="#b8a83a" opacity="0.8" filter="url(#tex2)"/>
<path d="M302.8,612.0 C303.7,611.0 307.4,611.6 309.4,612.9 C311.5,614.2 314.5,617.5 315.1,619.5 C315.8,621.5 314.5,624.2 313.2,624.9 C312.0,625.5 309.1,624.8 307.5,623.7 C306.0,622.7 304.5,620.6 303.7,618.6 C303.0,616.6 301.8,612.9 302.8,612.0 Z" fill="#b8a838" opacity="0.8" filter="url(#tex2)"/>
<path d="M317.0,606.3 C318.1,604.2 320.5,601.8 322.7,600.6 C324.9,599.3 327.8,598.7 330.3,598.7 C332.8,598.7 335.8,599.3 337.9,600.6 C340.0,601.8 341.7,604.4 342.6,606.3 C343.6,608.2 344.1,610.5 343.6,612.0 C343.1,613.4 341.2,614.8 339.8,614.8 C338.4,614.8 336.5,612.0 335.1,612.0 C333.6,612.0 332.5,613.2 331.3,614.8 C330.0,616.4 328.9,619.9 327.5,621.4 C326.0,623.0 324.3,624.6 322.7,624.3 C321.1,624.0 319.1,621.4 318.0,619.5 C316.9,617.6 316.2,615.1 316.1,612.9 C315.9,610.7 315.9,608.3 317.0,606.3 Z" fill="#8e9cc8" opacity="0.95" filter="url(#tex)"/>
<path d="M325.6,600.6 C326.0,601.4 327.8,603.7 328.4,605.3 C329.0,606.9 329.2,609.3 329.4,610.1" fill="none" stroke="#f2f4fa" stroke-width="2.0" stroke-linecap="round" stroke-linejoin="round" opacity="0.85" filter="url(#soft)"/>
<path d="M333.2,599.6 C333.5,600.4 334.5,602.9 335.1,604.4 C335.6,605.8 336.2,607.5 336.4,608.2" fill="none" stroke="#f2f4fa" stroke-width="2.0" stroke-linecap="round" stroke-linejoin="round" opacity="0.85" filter="url(#soft)"/>
<path d="M324.6,614.2 C324.1,615.3 327.5,624.8 328.4,624.9 C329.3,624.9 333.7,615.7 333.3,614.6 C333.0,613.5 325.1,613.2 324.6,614.2 Z" fill="#04050a" opacity="0.85" filter="url(#soft)"/>
<path d="M335.1,612.9 C335.4,614.2 336.5,618.1 337.0,620.5 C337.4,622.9 337.7,626.0 337.9,627.1" fill="none" stroke="#c2b23e" stroke-width="1.6" stroke-linecap="round" stroke-linejoin="round" opacity="0.8" filter="url(#tex2)"/>
<path d="M337.9,610.1 C339.0,609.1 343.4,608.5 345.5,609.1 C347.5,609.7 349.3,611.5 350.2,613.8 C351.2,616.2 351.7,620.5 351.2,623.3 C350.7,626.2 349.1,629.2 347.4,630.9 C345.6,632.7 342.5,633.9 340.7,633.8 C339.0,633.6 337.2,632.0 337.0,630.0 C336.7,627.9 339.1,624.0 339.4,621.4 C339.7,618.9 339.1,616.7 338.9,614.8 C338.6,612.9 336.8,611.0 337.9,610.1 Z" fill="#5f6ea6" opacity="0.6" filter="url(#tex)"/>
<path d="M322.7,589.6 C324.0,589.4 327.8,588.5 330.3,588.8 C332.8,589.1 336.6,591.0 337.9,591.5" fill="none" stroke="#d6c648" stroke-width="1.2" stroke-linecap="round" stroke-linejoin="round" opacity="0.85" filter="url(#tex2)"/>
<path d="M353.1,627.1 C353.9,628.4 356.5,632.3 357.8,634.7 C359.2,637.1 360.3,639.2 361.1,641.4 C361.8,643.5 362.3,646.6 362.6,647.6" fill="none" stroke="#8090c4" stroke-width="1.6" stroke-linecap="round" stroke-linejoin="round" opacity="0.6" filter="url(#tex2)"/>
<ellipse cx="345.5" cy="586.9" rx="0.57" ry="0.57" fill="#d8c840" opacity="0.9" transform="rotate(0 345.5 586.9)" filter="url(#soft)"/>
<ellipse cx="286.1" cy="615.7" rx="0.76" ry="0.76" fill="#8090d0" opacity="0.9" transform="rotate(0 286.1 615.7)" filter="url(#soft)"/>
</g>
<line x1="43.2" y1="487.5" x2="55" y2="487.5" stroke="#e8e8e8" stroke-width="0.7"/>
<text x="41.3" y="494.4" font-size="7.1" text-anchor="start" fill="#f2f2f2" stroke="#f2f2f2">1 mm</text>
<line x1="54.5" y1="563.5" x2="62" y2="563.5" stroke="#e8e8e8" stroke-width="0.7"/>
<text x="51.7" y="569.7" font-size="7.1" text-anchor="start" fill="#f2f2f2" stroke="#f2f2f2">1 mm</text>
<line x1="38.5" y1="640.5" x2="57.8" y2="640.5" stroke="#e8e8e8" stroke-width="0.7"/>
<text x="39.4" y="647.6" font-size="7.1" text-anchor="start" fill="#f2f2f2" stroke="#f2f2f2">1 mm</text>
<line x1="181" y1="487.5" x2="188" y2="487.5" stroke="#e8e8e8" stroke-width="0.7"/>
<text x="176.8" y="494.4" font-size="7.1" text-anchor="start" fill="#f2f2f2" stroke="#f2f2f2">1 mm</text>
<line x1="175" y1="562.5" x2="182.6" y2="562.5" stroke="#e8e8e8" stroke-width="0.7"/>
<text x="170.2" y="569.2" font-size="7.1" text-anchor="start" fill="#f2f2f2" stroke="#f2f2f2">1 mm</text>
<line x1="164.5" y1="640.5" x2="172" y2="640.5" stroke="#e8e8e8" stroke-width="0.7"/>
<text x="161" y="647.6" font-size="7.1" text-anchor="start" fill="#f2f2f2" stroke="#f2f2f2">1 mm</text>
<line x1="274.3" y1="487.5" x2="286.3" y2="487.5" stroke="#e8e8e8" stroke-width="0.7"/>
<text x="272.8" y="494.4" font-size="7.1" text-anchor="start" fill="#f2f2f2" stroke="#f2f2f2">1 mm</text>
<line x1="293.3" y1="562.5" x2="308.5" y2="562.5" stroke="#e8e8e8" stroke-width="0.7"/>
<text x="293.3" y="569.2" font-size="7.1" text-anchor="start" fill="#f2f2f2" stroke="#f2f2f2">1 mm</text>
<line x1="288.6" y1="640.5" x2="300.9" y2="640.5" stroke="#e8e8e8" stroke-width="0.7"/>
<text x="285.7" y="647.6" font-size="7.1" text-anchor="start" fill="#f2f2f2" stroke="#f2f2f2">1 mm</text>
<rect x="396.7" y="427.8" width="21.7" height="223.2" fill="#231f20"/>
<text x="401.8" y="504.6" font-size="14.2" textLength="29.6" lengthAdjust="spacingAndGlyphs" fill="#8399d2" stroke="none" transform="rotate(90 401.8 504.6)">DAPI</text>
<text x="401.8" y="546.4" font-size="14.2" textLength="25.8" lengthAdjust="spacingAndGlyphs" fill="#e1d884" stroke="none" transform="rotate(90 401.8 546.4)">GD2</text>
<text x="505.2" y="450.9" font-size="8.3" text-anchor="middle" fill="#231f20" stroke="#231f20">Tumour: GD2<tspan dy="-2.9" font-size="4.8">+</tspan><tspan dy="2.9" font-size="4.8">​</tspan> cancer cells</text>
<text x="450.2" y="507.9" font-size="8.3" text-anchor="middle" fill="#231f20" transform="rotate(-90 450.2 507.9)" stroke="#231f20">% of GD2<tspan dy="-2.9" font-size="4.8">+</tspan><tspan dy="2.9" font-size="4.8">​</tspan> cells</text>
<line x1="468.5" y1="462.62" x2="468.5" y2="550.17" stroke="#231f20" stroke-width="0.75"/>
<line x1="464.9" y1="463.5" x2="468.6" y2="463.5" stroke="#231f20" stroke-width="0.75"/>
<text x="464.2" y="465.95" font-size="8.2" text-anchor="end" fill="#231f20" stroke="#231f20">80</text>
<line x1="464.9" y1="484.5" x2="468.6" y2="484.5" stroke="#231f20" stroke-width="0.75"/>
<text x="464.2" y="487.55" font-size="8.2" text-anchor="end" fill="#231f20" stroke="#231f20">60</text>
<line x1="464.9" y1="506.5" x2="468.6" y2="506.5" stroke="#231f20" stroke-width="0.75"/>
<text x="464.2" y="509.35" font-size="8.2" text-anchor="end" fill="#231f20" stroke="#231f20">40</text>
<line x1="464.9" y1="528.5" x2="468.6" y2="528.5" stroke="#231f20" stroke-width="0.75"/>
<text x="464.2" y="531.05" font-size="8.2" text-anchor="end" fill="#231f20" stroke="#231f20">20</text>
<line x1="464.9" y1="549.5" x2="468.6" y2="549.5" stroke="#231f20" stroke-width="0.75"/>
<text x="464.2" y="552.75" font-size="8.2" text-anchor="end" fill="#231f20" stroke="#231f20">0</text>
<line x1="468.23" y1="549.5" x2="555.6" y2="549.5" stroke="#231f20" stroke-width="0.75"/>
<line x1="480.5" y1="549.8" x2="480.5" y2="553.9" stroke="#231f20" stroke-width="0.75"/>
<line x1="517.5" y1="549.8" x2="517.5" y2="553.9" stroke="#231f20" stroke-width="0.75"/>
<line x1="543.5" y1="549.8" x2="543.5" y2="553.9" stroke="#231f20" stroke-width="0.75"/>
<line x1="499.3" y1="463" x2="499.3" y2="549" stroke="#231f20" stroke-width="1.25" stroke-dasharray="1.25 3.95" stroke-dashoffset="0.6"/>
<line x1="480.5" y1="490.7" x2="480.5" y2="500.3" stroke="#000" stroke-width="0.75"/>
<line x1="478.0" y1="490.5" x2="483.8" y2="490.5" stroke="#000" stroke-width="0.75"/>
<line x1="478.0" y1="500.5" x2="483.8" y2="500.5" stroke="#000" stroke-width="0.75"/>
<line x1="474.9" y1="495.5" x2="486.9" y2="495.5" stroke="#231f20" stroke-width="0.85"/>
<circle cx="481.1" cy="482.4" r="1.75" fill="#000"/>
<circle cx="480.7" cy="489.3" r="1.75" fill="#000"/>
<circle cx="481.1" cy="496.1" r="1.75" fill="#000"/>
<circle cx="485.3" cy="504.1" r="1.75" fill="#000"/>
<circle cx="476.5" cy="507.2" r="1.75" fill="#000"/>
<circle cx="517.9" cy="542.5" r="1.75" fill="#2f3e9e"/>
<circle cx="513.8" cy="549.2" r="1.75" fill="#2f3e9e"/>
<circle cx="515.8" cy="548" r="1.75" fill="#2f3e9e"/>
<circle cx="518" cy="549.4" r="1.75" fill="#2f3e9e"/>
<circle cx="520.4" cy="548.6" r="1.75" fill="#2f3e9e"/>
<circle cx="522.6" cy="549.4" r="1.75" fill="#2f3e9e"/>
<line x1="512.2" y1="549.5" x2="524.2" y2="549.5" stroke="#2f3e9e" stroke-width="0.8"/>
<line x1="543.5" y1="518.1" x2="543.5" y2="530" stroke="#ef4136" stroke-width="0.75"/>
<line x1="540.3" y1="518.5" x2="546.1" y2="518.5" stroke="#ef4136" stroke-width="0.75"/>
<line x1="540.3" y1="530.5" x2="546.1" y2="530.5" stroke="#ef4136" stroke-width="0.75"/>
<line x1="537.2" y1="524.5" x2="549.2" y2="524.5" stroke="#231f20" stroke-width="0.85"/>
<rect x="541.45" y="491.95" width="3.3" height="3.3" fill="#ef4136"/>
<rect x="541.85" y="517.25" width="3.3" height="3.3" fill="#ef4136"/>
<rect x="537.05" y="526.85" width="3.3" height="3.3" fill="#ef4136"/>
<rect x="546.05" y="525.85" width="3.3" height="3.3" fill="#ef4136"/>
<rect x="541.85" y="522.05" width="3.3" height="3.3" fill="#ef4136"/>
<rect x="541.45" y="533.15" width="3.3" height="3.3" fill="#ef4136"/>
<rect x="541.45" y="542.25" width="3.3" height="3.3" fill="#ef4136"/>
<path d="M517.5,488.8 V480.5 H543.5 V482.4" stroke="#231f20" stroke-width="0.75" fill="none"/>
<text x="531" y="477.6" font-size="8.3" text-anchor="middle" fill="#231f20" stroke="#231f20">0.0012</text>
<text x="482.8" y="557.7" font-size="8.4" text-anchor="end" fill="#231f20" transform="rotate(-45 482.8 557.7)" stroke="#231f20">PBS + αPD-1</text>
<text x="520.0" y="557.7" font-size="8.4" text-anchor="end" fill="#231f20" transform="rotate(-45 520.0 557.7)" stroke="#231f20">DCP-IL-12/tOVA + αPD-1</text>
<text x="545.2" y="557.7" font-size="8.4" text-anchor="end" fill="#231f20" transform="rotate(-45 545.2 557.7)" stroke="#231f20">DCP-IL-12/EVIR + αPD-1</text>
</g>
</svg>
</body></html>
